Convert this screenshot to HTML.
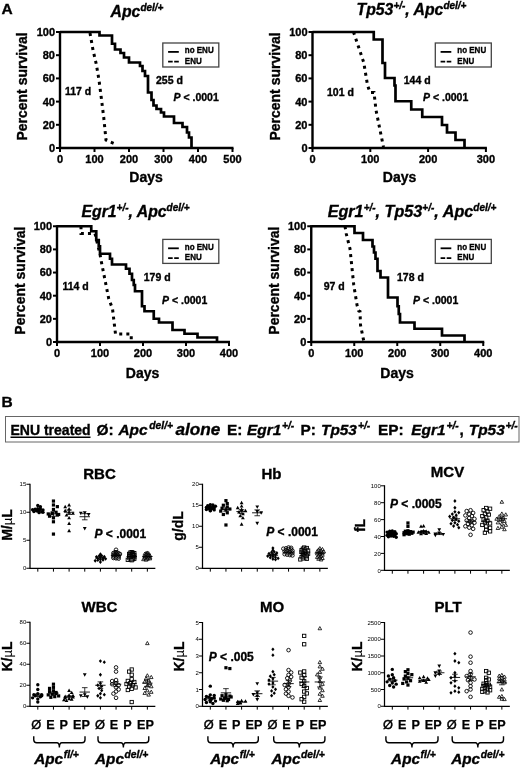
<!DOCTYPE html>
<html><head><meta charset="utf-8"><title>Figure</title>
<style>
html,body{margin:0;padding:0;background:#fff;}
body{width:520px;height:768px;overflow:hidden;font-family:"Liberation Sans",sans-serif;}
svg{display:block;filter:blur(0.3px);}
svg text{font-family:"Liberation Sans",sans-serif;fill:#000;}
svg text.b{stroke:#000;stroke-width:0.35px;}
</style></head><body>
<svg width="520" height="768" viewBox="0 0 520 768">
<rect width="520" height="768" fill="#fff"/>
<path d="M60 31 V148 H233.5" fill="none" stroke="#000" stroke-width="2.4"/>
<line x1="56" x2="60" y1="148.0" y2="148.0" stroke="#000" stroke-width="2"/>
<text x="55" y="151.9" font-size="11" font-weight="bold" font-style="normal" text-anchor="end"  class="b">0</text>
<line x1="56" x2="60" y1="124.8" y2="124.8" stroke="#000" stroke-width="2"/>
<text x="55" y="128.7" font-size="11" font-weight="bold" font-style="normal" text-anchor="end"  class="b">20</text>
<line x1="56" x2="60" y1="101.6" y2="101.6" stroke="#000" stroke-width="2"/>
<text x="55" y="105.5" font-size="11" font-weight="bold" font-style="normal" text-anchor="end"  class="b">40</text>
<line x1="56" x2="60" y1="78.4" y2="78.4" stroke="#000" stroke-width="2"/>
<text x="55" y="82.30000000000001" font-size="11" font-weight="bold" font-style="normal" text-anchor="end"  class="b">60</text>
<line x1="56" x2="60" y1="55.2" y2="55.2" stroke="#000" stroke-width="2"/>
<text x="55" y="59.1" font-size="11" font-weight="bold" font-style="normal" text-anchor="end"  class="b">80</text>
<line x1="56" x2="60" y1="32.0" y2="32.0" stroke="#000" stroke-width="2"/>
<text x="55" y="35.9" font-size="11" font-weight="bold" font-style="normal" text-anchor="end"  class="b">100</text>
<line x1="60.0" x2="60.0" y1="148" y2="152" stroke="#000" stroke-width="2"/>
<text x="60.0" y="162.5" font-size="11" font-weight="bold" font-style="normal" text-anchor="middle"  class="b">0</text>
<line x1="94.5" x2="94.5" y1="148" y2="152" stroke="#000" stroke-width="2"/>
<text x="94.5" y="162.5" font-size="11" font-weight="bold" font-style="normal" text-anchor="middle"  class="b">100</text>
<line x1="129.0" x2="129.0" y1="148" y2="152" stroke="#000" stroke-width="2"/>
<text x="129.0" y="162.5" font-size="11" font-weight="bold" font-style="normal" text-anchor="middle"  class="b">200</text>
<line x1="163.5" x2="163.5" y1="148" y2="152" stroke="#000" stroke-width="2"/>
<text x="163.5" y="162.5" font-size="11" font-weight="bold" font-style="normal" text-anchor="middle"  class="b">300</text>
<line x1="198.0" x2="198.0" y1="148" y2="152" stroke="#000" stroke-width="2"/>
<text x="198.0" y="162.5" font-size="11" font-weight="bold" font-style="normal" text-anchor="middle"  class="b">400</text>
<line x1="232.5" x2="232.5" y1="148" y2="152" stroke="#000" stroke-width="2"/>
<text x="232.5" y="162.5" font-size="11" font-weight="bold" font-style="normal" text-anchor="middle"  class="b">500</text>
<text transform="translate(27 86.5) rotate(-90)" font-size="14" font-weight="bold" class="b" text-anchor="middle">Percent survival</text>
<text x="146.0" y="182.3" font-size="14" font-weight="bold" font-style="normal" text-anchor="middle"  class="b">Days</text>
<text x="137" y="17" font-size="15.8" font-weight="bold" class="b" font-style="italic" text-anchor="middle"><tspan dy="0">Apc</tspan><tspan font-size="10" dy="-6">del/+</tspan></text>
<polyline points="90,33 93,50 96.25,64 99,80 101.25,97.5 103.75,117.5 106,140 109,141.5 114,143.5 114.5,148" fill="none" stroke="#000" stroke-width="3" stroke-dasharray="3 4.1"/>
<path d="M60 32 H99.5 V35.5 H112 V43.75 H115 V49.5 H120.5 V53 H124 V57.5 H129 V62.5 H140 V66 H142.5 V71 H145 V76 H148 V92.5 H151.5 V100 H153.5 V105.5 H156.5 V109 H161 V112.5 H164 V116.5 H174 V123 H182.5 V127 H187 V132.5 H189 V137.5 H191.5 V148" fill="none" stroke="#000" stroke-width="2.7" stroke-linejoin="miter"/>
<text x="65" y="95" font-size="10.5" font-weight="bold" font-style="normal" text-anchor="start"  class="b">117 d</text>
<text x="156" y="84" font-size="10.5" font-weight="bold" font-style="normal" text-anchor="start"  class="b">255 d</text>
<text x="173.5" y="101.2" font-size="10.5" font-weight="bold" class="b"><tspan font-style="italic">P</tspan> &lt; .0001</text>
<rect x="162.8" y="43" width="56" height="24" fill="#fff" stroke="#444" stroke-width="1.3"/>
<line x1="168.1" x2="178.8" y1="51.9" y2="51.9" stroke="#000" stroke-width="1.8"/>
<line x1="168.1" x2="178.8" y1="61.7" y2="61.7" stroke="#000" stroke-width="1.8" stroke-dasharray="4.6 1.5"/>
<text transform="translate(184.8 53.2) scale(0.87 1)" font-size="9.2" font-weight="bold" class="b">no ENU</text>
<text transform="translate(184.8 63.7) scale(0.87 1)" font-size="9.2" font-weight="bold" class="b">ENU</text>
<path d="M312.5 31 V148 H486.9" fill="none" stroke="#000" stroke-width="2.4"/>
<line x1="308.5" x2="312.5" y1="148.0" y2="148.0" stroke="#000" stroke-width="2"/>
<text x="307.5" y="151.9" font-size="11" font-weight="bold" font-style="normal" text-anchor="end"  class="b">0</text>
<line x1="308.5" x2="312.5" y1="124.8" y2="124.8" stroke="#000" stroke-width="2"/>
<text x="307.5" y="128.7" font-size="11" font-weight="bold" font-style="normal" text-anchor="end"  class="b">20</text>
<line x1="308.5" x2="312.5" y1="101.6" y2="101.6" stroke="#000" stroke-width="2"/>
<text x="307.5" y="105.5" font-size="11" font-weight="bold" font-style="normal" text-anchor="end"  class="b">40</text>
<line x1="308.5" x2="312.5" y1="78.4" y2="78.4" stroke="#000" stroke-width="2"/>
<text x="307.5" y="82.30000000000001" font-size="11" font-weight="bold" font-style="normal" text-anchor="end"  class="b">60</text>
<line x1="308.5" x2="312.5" y1="55.2" y2="55.2" stroke="#000" stroke-width="2"/>
<text x="307.5" y="59.1" font-size="11" font-weight="bold" font-style="normal" text-anchor="end"  class="b">80</text>
<line x1="308.5" x2="312.5" y1="32.0" y2="32.0" stroke="#000" stroke-width="2"/>
<text x="307.5" y="35.9" font-size="11" font-weight="bold" font-style="normal" text-anchor="end"  class="b">100</text>
<line x1="312.5" x2="312.5" y1="148" y2="152" stroke="#000" stroke-width="2"/>
<text x="312.5" y="162.5" font-size="11" font-weight="bold" font-style="normal" text-anchor="middle"  class="b">0</text>
<line x1="370.3" x2="370.3" y1="148" y2="152" stroke="#000" stroke-width="2"/>
<text x="370.3" y="162.5" font-size="11" font-weight="bold" font-style="normal" text-anchor="middle"  class="b">100</text>
<line x1="428.1" x2="428.1" y1="148" y2="152" stroke="#000" stroke-width="2"/>
<text x="428.1" y="162.5" font-size="11" font-weight="bold" font-style="normal" text-anchor="middle"  class="b">200</text>
<line x1="485.9" x2="485.9" y1="148" y2="152" stroke="#000" stroke-width="2"/>
<text x="485.9" y="162.5" font-size="11" font-weight="bold" font-style="normal" text-anchor="middle"  class="b">300</text>
<text transform="translate(280 86.5) rotate(-90)" font-size="14" font-weight="bold" class="b" text-anchor="middle">Percent survival</text>
<text x="399.5" y="182.3" font-size="14" font-weight="bold" font-style="normal" text-anchor="middle"  class="b">Days</text>
<text x="411.5" y="14.8" font-size="15.8" font-weight="bold" class="b" font-style="italic" text-anchor="middle"><tspan dy="0">Tp53</tspan><tspan font-size="10" dy="-6">+/-</tspan><tspan dy="6">, Apc</tspan><tspan font-size="10" dy="-6">del/+</tspan></text>
<polyline points="353.5,32 358.75,47.5 363.75,62.5 367.5,85 370,92.5 374,92.5 376,110 380,130 383.5,147" fill="none" stroke="#000" stroke-width="3" stroke-dasharray="3 4.1"/>
<path d="M312.5 32 H373.75 V39.5 H382.5 V63 H385 V78 H394.5 V85.5 H395.5 V101.25 H411.25 V109.5 H422.25 V117 H442 V125 H447 V132.5 H455.5 V140 H464.5 V148" fill="none" stroke="#000" stroke-width="2.7" stroke-linejoin="miter"/>
<text x="327" y="95.5" font-size="10.5" font-weight="bold" font-style="normal" text-anchor="start"  class="b">101 d</text>
<text x="403.75" y="83.5" font-size="10.5" font-weight="bold" font-style="normal" text-anchor="start"  class="b">144 d</text>
<text x="423" y="101.2" font-size="10.5" font-weight="bold" class="b"><tspan font-style="italic">P</tspan> &lt; .0001</text>
<rect x="435.3" y="43" width="56" height="24" fill="#fff" stroke="#444" stroke-width="1.3"/>
<line x1="440.6" x2="451.3" y1="51.9" y2="51.9" stroke="#000" stroke-width="1.8"/>
<line x1="440.6" x2="451.3" y1="61.7" y2="61.7" stroke="#000" stroke-width="1.8" stroke-dasharray="4.6 1.5"/>
<text transform="translate(457.3 53.2) scale(0.87 1)" font-size="9.2" font-weight="bold" class="b">no ENU</text>
<text transform="translate(457.3 63.7) scale(0.87 1)" font-size="9.2" font-weight="bold" class="b">ENU</text>
<path d="M57 225.25 V342 H230.0" fill="none" stroke="#000" stroke-width="2.4"/>
<line x1="53" x2="57" y1="342.0" y2="342.0" stroke="#000" stroke-width="2"/>
<text x="52" y="345.9" font-size="11" font-weight="bold" font-style="normal" text-anchor="end"  class="b">0</text>
<line x1="53" x2="57" y1="318.85" y2="318.85" stroke="#000" stroke-width="2"/>
<text x="52" y="322.75" font-size="11" font-weight="bold" font-style="normal" text-anchor="end"  class="b">20</text>
<line x1="53" x2="57" y1="295.7" y2="295.7" stroke="#000" stroke-width="2"/>
<text x="52" y="299.59999999999997" font-size="11" font-weight="bold" font-style="normal" text-anchor="end"  class="b">40</text>
<line x1="53" x2="57" y1="272.55" y2="272.55" stroke="#000" stroke-width="2"/>
<text x="52" y="276.45" font-size="11" font-weight="bold" font-style="normal" text-anchor="end"  class="b">60</text>
<line x1="53" x2="57" y1="249.4" y2="249.4" stroke="#000" stroke-width="2"/>
<text x="52" y="253.3" font-size="11" font-weight="bold" font-style="normal" text-anchor="end"  class="b">80</text>
<line x1="53" x2="57" y1="226.25" y2="226.25" stroke="#000" stroke-width="2"/>
<text x="52" y="230.15" font-size="11" font-weight="bold" font-style="normal" text-anchor="end"  class="b">100</text>
<line x1="57.0" x2="57.0" y1="342" y2="346" stroke="#000" stroke-width="2"/>
<text x="57.0" y="356.5" font-size="11" font-weight="bold" font-style="normal" text-anchor="middle"  class="b">0</text>
<line x1="100.0" x2="100.0" y1="342" y2="346" stroke="#000" stroke-width="2"/>
<text x="100.0" y="356.5" font-size="11" font-weight="bold" font-style="normal" text-anchor="middle"  class="b">100</text>
<line x1="143.0" x2="143.0" y1="342" y2="346" stroke="#000" stroke-width="2"/>
<text x="143.0" y="356.5" font-size="11" font-weight="bold" font-style="normal" text-anchor="middle"  class="b">200</text>
<line x1="186.0" x2="186.0" y1="342" y2="346" stroke="#000" stroke-width="2"/>
<text x="186.0" y="356.5" font-size="11" font-weight="bold" font-style="normal" text-anchor="middle"  class="b">300</text>
<line x1="229.0" x2="229.0" y1="342" y2="346" stroke="#000" stroke-width="2"/>
<text x="229.0" y="356.5" font-size="11" font-weight="bold" font-style="normal" text-anchor="middle"  class="b">400</text>
<text transform="translate(25 280.625) rotate(-90)" font-size="14" font-weight="bold" class="b" text-anchor="middle">Percent survival</text>
<text x="142.5" y="378.3" font-size="14" font-weight="bold" font-style="normal" text-anchor="middle"  class="b">Days</text>
<text x="135.6" y="217" font-size="15.8" font-weight="bold" class="b" font-style="italic" text-anchor="middle"><tspan dy="0">Egr1</tspan><tspan font-size="10" dy="-6">+/-</tspan><tspan dy="6">, Apc</tspan><tspan font-size="10" dy="-6">del/+</tspan></text>
<polyline points="81,226.25 81,233.5 95,233.5 98,246 100,254 101,260 106,285 108.75,298.75 112.5,308.75 115.5,334 131.25,334 131.25,342" fill="none" stroke="#000" stroke-width="3" stroke-dasharray="3 4.1"/>
<path d="M57 226.25 H91.25 V231.25 H96.25 V240 H98.75 V246.25 H100 V253.75 H110 V258.75 H112 V264.5 H126 V268.75 H129.5 V273.75 H132 V280 H133.75 V285 H135 V291.25 H142 V306.25 H144.5 V311.25 H153.75 V318.75 H159 V322.5 H172.5 V330 H184.5 V333.75 H197.5 V337.5 H217 V342" fill="none" stroke="#000" stroke-width="2.7" stroke-linejoin="miter"/>
<text x="62.5" y="290" font-size="10.5" font-weight="bold" font-style="normal" text-anchor="start"  class="b">114 d</text>
<text x="143.75" y="281.2" font-size="10.5" font-weight="bold" font-style="normal" text-anchor="start"  class="b">179 d</text>
<text x="162" y="303.7" font-size="10.5" font-weight="bold" class="b"><tspan font-style="italic">P</tspan> &lt; .0001</text>
<rect x="162.8" y="239.4" width="56" height="24" fill="#fff" stroke="#444" stroke-width="1.3"/>
<line x1="168.1" x2="178.8" y1="248.3" y2="248.3" stroke="#000" stroke-width="1.8"/>
<line x1="168.1" x2="178.8" y1="258.1" y2="258.1" stroke="#000" stroke-width="1.8" stroke-dasharray="4.6 1.5"/>
<text transform="translate(184.8 249.6) scale(0.87 1)" font-size="9.2" font-weight="bold" class="b">no ENU</text>
<text transform="translate(184.8 260.1) scale(0.87 1)" font-size="9.2" font-weight="bold" class="b">ENU</text>
<path d="M311.25 225.25 V342 H484.25" fill="none" stroke="#000" stroke-width="2.4"/>
<line x1="307.25" x2="311.25" y1="342.0" y2="342.0" stroke="#000" stroke-width="2"/>
<text x="306.25" y="345.9" font-size="11" font-weight="bold" font-style="normal" text-anchor="end"  class="b">0</text>
<line x1="307.25" x2="311.25" y1="318.85" y2="318.85" stroke="#000" stroke-width="2"/>
<text x="306.25" y="322.75" font-size="11" font-weight="bold" font-style="normal" text-anchor="end"  class="b">20</text>
<line x1="307.25" x2="311.25" y1="295.7" y2="295.7" stroke="#000" stroke-width="2"/>
<text x="306.25" y="299.59999999999997" font-size="11" font-weight="bold" font-style="normal" text-anchor="end"  class="b">40</text>
<line x1="307.25" x2="311.25" y1="272.55" y2="272.55" stroke="#000" stroke-width="2"/>
<text x="306.25" y="276.45" font-size="11" font-weight="bold" font-style="normal" text-anchor="end"  class="b">60</text>
<line x1="307.25" x2="311.25" y1="249.4" y2="249.4" stroke="#000" stroke-width="2"/>
<text x="306.25" y="253.3" font-size="11" font-weight="bold" font-style="normal" text-anchor="end"  class="b">80</text>
<line x1="307.25" x2="311.25" y1="226.25" y2="226.25" stroke="#000" stroke-width="2"/>
<text x="306.25" y="230.15" font-size="11" font-weight="bold" font-style="normal" text-anchor="end"  class="b">100</text>
<line x1="311.25" x2="311.25" y1="342" y2="346" stroke="#000" stroke-width="2"/>
<text x="311.25" y="356.5" font-size="11" font-weight="bold" font-style="normal" text-anchor="middle"  class="b">0</text>
<line x1="354.25" x2="354.25" y1="342" y2="346" stroke="#000" stroke-width="2"/>
<text x="354.25" y="356.5" font-size="11" font-weight="bold" font-style="normal" text-anchor="middle"  class="b">100</text>
<line x1="397.25" x2="397.25" y1="342" y2="346" stroke="#000" stroke-width="2"/>
<text x="397.25" y="356.5" font-size="11" font-weight="bold" font-style="normal" text-anchor="middle"  class="b">200</text>
<line x1="440.25" x2="440.25" y1="342" y2="346" stroke="#000" stroke-width="2"/>
<text x="440.25" y="356.5" font-size="11" font-weight="bold" font-style="normal" text-anchor="middle"  class="b">300</text>
<line x1="483.25" x2="483.25" y1="342" y2="346" stroke="#000" stroke-width="2"/>
<text x="483.25" y="356.5" font-size="11" font-weight="bold" font-style="normal" text-anchor="middle"  class="b">400</text>
<text transform="translate(278.75 280.625) rotate(-90)" font-size="14" font-weight="bold" class="b" text-anchor="middle">Percent survival</text>
<text x="397.0" y="378.3" font-size="14" font-weight="bold" font-style="normal" text-anchor="middle"  class="b">Days</text>
<text x="412" y="216.7" font-size="16.2" font-weight="bold" class="b" font-style="italic" text-anchor="middle"><tspan dy="0">Egr1</tspan><tspan font-size="10" dy="-6">+/-</tspan><tspan dy="6">, Tp53</tspan><tspan font-size="10" dy="-6">+/-</tspan><tspan dy="6">, Apc</tspan><tspan font-size="10" dy="-6">del/+</tspan></text>
<polyline points="345,226.25 346.25,233.75 350,248.75 353.75,285 357,305 358.75,311 360,311.5 360.5,325 363.75,341" fill="none" stroke="#000" stroke-width="3" stroke-dasharray="3 4.1"/>
<path d="M311.25 226.25 H354.5 V233 H363 V240 H372.5 V246.5 H374 V252.5 H375.5 V258.75 H377.5 V271 H380.5 V277.5 H388 V297.5 H397.5 V306.25 H398.75 V314 H400 V322.5 H414.5 V328.75 H442 V335.5 H464.5 V342" fill="none" stroke="#000" stroke-width="2.7" stroke-linejoin="miter"/>
<text x="323.75" y="289.7" font-size="10.5" font-weight="bold" font-style="normal" text-anchor="start"  class="b">97 d</text>
<text x="397" y="281.2" font-size="10.5" font-weight="bold" font-style="normal" text-anchor="start"  class="b">178 d</text>
<text x="413" y="303.7" font-size="10.5" font-weight="bold" class="b"><tspan font-style="italic">P</tspan> &lt; .0001</text>
<rect x="435.3" y="239.4" width="56" height="24" fill="#fff" stroke="#444" stroke-width="1.3"/>
<line x1="440.6" x2="451.3" y1="248.3" y2="248.3" stroke="#000" stroke-width="1.8"/>
<line x1="440.6" x2="451.3" y1="258.1" y2="258.1" stroke="#000" stroke-width="1.8" stroke-dasharray="4.6 1.5"/>
<text transform="translate(457.3 249.6) scale(0.87 1)" font-size="9.2" font-weight="bold" class="b">no ENU</text>
<text transform="translate(457.3 260.1) scale(0.87 1)" font-size="9.2" font-weight="bold" class="b">ENU</text>
<text x="1.5" y="14" font-size="15.5" font-weight="bold" font-style="normal" text-anchor="start"  class="b">A</text>
<text x="1.5" y="406.5" font-size="15.5" font-weight="bold" font-style="normal" text-anchor="start"  class="b">B</text>
<rect x="5.5" y="416.5" width="513.5" height="25.5" fill="#fff" stroke="#666" stroke-width="1"/>
<text x="10.5" y="434.5" font-size="14" font-weight="bold" font-style="normal" text-anchor="start"  class="b">ENU treated</text>
<line x1="10.5" x2="90.5" y1="437.3" y2="437.3" stroke="#000" stroke-width="1.4"/>
<text x="96.5" y="434.5" font-size="15.4" font-weight="bold" font-style="normal" text-anchor="start"  class="b">Ø:</text>
<text x="118.5" y="434.5" font-size="15.4" font-weight="bold" font-style="italic" text-anchor="start"  class="b">Apc</text>
<text x="149.3" y="429.4" font-size="10.3" font-weight="bold" font-style="italic" text-anchor="start"  class="b">del/+</text>
<text x="175.5" y="434.5" font-size="17.2" font-weight="bold" font-style="italic" text-anchor="start"  class="b">alone</text>
<text x="227" y="434.5" font-size="15.4" font-weight="bold" font-style="normal" text-anchor="start"  class="b">E:</text>
<text x="247" y="434.5" font-size="15.4" font-weight="bold" font-style="italic" text-anchor="start"  class="b">Egr1</text>
<text x="282" y="429.4" font-size="10.3" font-weight="bold" font-style="italic" text-anchor="start"  class="b">+/-</text>
<text x="300.5" y="434.5" font-size="15.4" font-weight="bold" font-style="normal" text-anchor="start"  class="b">P:</text>
<text x="321" y="434.5" font-size="15.4" font-weight="bold" font-style="italic" text-anchor="start"  class="b">Tp53</text>
<text x="358" y="429.4" font-size="10.3" font-weight="bold" font-style="italic" text-anchor="start"  class="b">+/-</text>
<text x="378" y="434.5" font-size="15.4" font-weight="bold" font-style="normal" text-anchor="start"  class="b">EP:</text>
<text x="411.3" y="434.5" font-size="15.4" font-weight="bold" font-style="italic" text-anchor="start"  class="b">Egr1</text>
<text x="446.5" y="429.4" font-size="10.3" font-weight="bold" font-style="italic" text-anchor="start"  class="b">+/-</text>
<text x="459.5" y="434.5" font-size="15.4" font-weight="bold" font-style="normal" text-anchor="start"  class="b">,</text>
<text x="468.8" y="434.5" font-size="15.4" font-weight="bold" font-style="italic" text-anchor="start"  class="b">Tp53</text>
<text x="505.5" y="429.4" font-size="10.3" font-weight="bold" font-style="italic" text-anchor="start"  class="b">+/-</text>
<path d="M30 483.75 V568.25 H155.35" fill="none" stroke="#000" stroke-width="1.25"/>
<line x1="26.4" x2="30" y1="568.25" y2="568.25" stroke="#000" stroke-width="1"/>
<text x="26.3" y="570.45" font-size="6" font-weight="normal" font-style="normal" text-anchor="end" fill="#222">0</text>
<line x1="26.4" x2="30" y1="540.25" y2="540.25" stroke="#000" stroke-width="1"/>
<text x="26.3" y="542.45" font-size="6" font-weight="normal" font-style="normal" text-anchor="end" fill="#222">5</text>
<line x1="26.4" x2="30" y1="512.25" y2="512.25" stroke="#000" stroke-width="1"/>
<text x="26.3" y="514.45" font-size="6" font-weight="normal" font-style="normal" text-anchor="end" fill="#222">10</text>
<line x1="26.4" x2="30" y1="484.25" y2="484.25" stroke="#000" stroke-width="1"/>
<text x="26.3" y="486.45" font-size="6" font-weight="normal" font-style="normal" text-anchor="end" fill="#222">15</text>
<line x1="37.8" x2="37.8" y1="568.25" y2="571.65" stroke="#000" stroke-width="1"/>
<line x1="53.449999999999996" x2="53.449999999999996" y1="568.25" y2="571.65" stroke="#000" stroke-width="1"/>
<line x1="69.1" x2="69.1" y1="568.25" y2="571.65" stroke="#000" stroke-width="1"/>
<line x1="84.75" x2="84.75" y1="568.25" y2="571.65" stroke="#000" stroke-width="1"/>
<line x1="100.4" x2="100.4" y1="568.25" y2="571.65" stroke="#000" stroke-width="1"/>
<line x1="116.05" x2="116.05" y1="568.25" y2="571.65" stroke="#000" stroke-width="1"/>
<line x1="131.7" x2="131.7" y1="568.25" y2="571.65" stroke="#000" stroke-width="1"/>
<line x1="147.35" x2="147.35" y1="568.25" y2="571.65" stroke="#000" stroke-width="1"/>
<text x="99.5" y="479" font-size="15" font-weight="bold" font-style="normal" text-anchor="middle"  class="b">RBC</text>
<text transform="translate(12 525) rotate(-90)" font-size="14" font-weight="bold" class="b" text-anchor="middle">M/<tspan font-weight="normal" font-size="13" stroke-width="0.15">µ</tspan>L</text>
<circle cx="37.8" cy="505.53" r="1.7" fill="#000"/>
<circle cx="40.4" cy="506.65" r="1.7" fill="#000"/>
<circle cx="37.8" cy="508.61" r="1.7" fill="#000"/>
<circle cx="40.4" cy="508.99" r="1.7" fill="#000"/>
<circle cx="35.2" cy="509.28" r="1.7" fill="#000"/>
<circle cx="32.6" cy="509.74" r="1.7" fill="#000"/>
<circle cx="43.0" cy="510.01" r="1.7" fill="#000"/>
<circle cx="39.1" cy="510.48" r="1.7" fill="#000"/>
<circle cx="36.5" cy="510.79" r="1.7" fill="#000"/>
<circle cx="37.8" cy="511.12" r="1.7" fill="#000"/>
<circle cx="33.9" cy="511.6" r="1.7" fill="#000"/>
<circle cx="41.7" cy="511.84" r="1.7" fill="#000"/>
<circle cx="43.0" cy="512.33" r="1.7" fill="#000"/>
<circle cx="39.1" cy="512.66" r="1.7" fill="#000"/>
<line x1="32.599999999999994" x2="43.0" y1="510.01" y2="510.01" stroke="#000" stroke-width="0.9"/>
<rect x="51.85" y="499.45" width="3.2" height="3.2" fill="#000"/>
<rect x="51.85" y="503.37" width="3.2" height="3.2" fill="#000"/>
<rect x="55.75" y="505.04999999999995" width="3.2" height="3.2" fill="#000"/>
<rect x="51.85" y="507.84999999999997" width="3.2" height="3.2" fill="#000"/>
<rect x="54.449999999999996" y="510.65" width="3.2" height="3.2" fill="#000"/>
<rect x="50.55" y="511.77" width="3.2" height="3.2" fill="#000"/>
<rect x="46.65" y="512.3299999999999" width="3.2" height="3.2" fill="#000"/>
<rect x="57.05" y="512.89" width="3.2" height="3.2" fill="#000"/>
<rect x="55.75" y="513.4499999999999" width="3.2" height="3.2" fill="#000"/>
<rect x="47.949999999999996" y="514.5699999999999" width="3.2" height="3.2" fill="#000"/>
<rect x="51.85" y="516.25" width="3.2" height="3.2" fill="#000"/>
<rect x="51.85" y="520.17" width="3.2" height="3.2" fill="#000"/>
<rect x="51.85" y="532.49" width="3.2" height="3.2" fill="#000"/>
<line x1="48.24999999999999" x2="58.65" y1="513.9300000000001" y2="513.9300000000001" stroke="#000" stroke-width="0.9"/>
<path d="M53.449999999999996 511.69000000000005 V516.1700000000001 M50.65 511.69000000000005 H56.24999999999999 M50.65 516.1700000000001 H56.24999999999999" stroke="#000" stroke-width="0.8" fill="none"/>
<path d="M69.1 503.07000000000005 L71.0 506.47 L67.19999999999999 506.47Z" fill="#000"/>
<path d="M65.2 504.75 L67.10000000000001 508.15 L63.300000000000004 508.15Z" fill="#000"/>
<path d="M69.1 506.99 L71.0 510.39 L67.19999999999999 510.39Z" fill="#000"/>
<path d="M65.2 508.67 L67.10000000000001 512.0699999999999 L63.300000000000004 512.0699999999999Z" fill="#000"/>
<path d="M69.1 510.35 L71.0 513.75 L67.19999999999999 513.75Z" fill="#000"/>
<path d="M73.0 511.47 L74.9 514.87 L71.1 514.87Z" fill="#000"/>
<path d="M66.5 513.15 L68.4 516.55 L64.6 516.55Z" fill="#000"/>
<path d="M69.1 515.95 L71.0 519.35 L67.19999999999999 519.35Z" fill="#000"/>
<path d="M69.1 521.5500000000001 L71.0 524.95 L67.19999999999999 524.95Z" fill="#000"/>
<path d="M69.1 528.83 L71.0 532.23 L67.19999999999999 532.23Z" fill="#000"/>
<line x1="63.89999999999999" x2="74.3" y1="512.25" y2="512.25" stroke="#000" stroke-width="0.9"/>
<path d="M69.1 510.01 V514.49 M66.3 510.01 H71.89999999999999 M66.3 514.49 H71.89999999999999" stroke="#000" stroke-width="0.8" fill="none"/>
<path d="M84.75 514.7099999999999 L86.65 511.30999999999995 L82.85 511.30999999999995Z" fill="#000"/>
<path d="M80.85 515.27 L82.75 511.87 L78.94999999999999 511.87Z" fill="#000"/>
<path d="M88.65 516.39 L90.55000000000001 512.99 L86.75 512.99Z" fill="#000"/>
<path d="M84.75 530.39 L86.65 526.99 L82.85 526.99Z" fill="#000"/>
<line x1="79.55" x2="89.95" y1="516.73" y2="516.73" stroke="#000" stroke-width="0.9"/>
<path d="M84.75 513.65 V519.8100000000001 M81.95 513.65 H87.55 M81.95 519.8100000000001 H87.55" stroke="#000" stroke-width="0.8" fill="none"/>
<path d="M100.4 552.35 L102.0 554.25 L100.4 556.15 L98.80000000000001 554.25Z" fill="#000"/>
<path d="M101.7 553.76 L103.3 555.66 L101.7 557.56 L100.10000000000001 555.66Z" fill="#000"/>
<path d="M99.1 554.07 L100.69999999999999 555.97 L99.1 557.87 L97.5 555.97Z" fill="#000"/>
<path d="M104.3 554.76 L105.89999999999999 556.66 L104.3 558.56 L102.7 556.66Z" fill="#000"/>
<path d="M96.5 554.97 L98.1 556.87 L96.5 558.77 L94.9 556.87Z" fill="#000"/>
<path d="M100.4 555.6 L102.0 557.5 L100.4 559.4 L98.80000000000001 557.5Z" fill="#000"/>
<path d="M103.0 556.02 L104.6 557.92 L103.0 559.8199999999999 L101.4 557.92Z" fill="#000"/>
<path d="M97.8 556.38 L99.39999999999999 558.28 L97.8 560.18 L96.2 558.28Z" fill="#000"/>
<path d="M105.6 556.9300000000001 L107.19999999999999 558.83 L105.6 560.73 L104.0 558.83Z" fill="#000"/>
<path d="M100.4 557.51 L102.0 559.41 L100.4 561.31 L98.80000000000001 559.41Z" fill="#000"/>
<path d="M103.0 558.01 L104.6 559.91 L103.0 561.81 L101.4 559.91Z" fill="#000"/>
<path d="M97.8 558.28 L99.39999999999999 560.18 L97.8 562.0799999999999 L96.2 560.18Z" fill="#000"/>
<path d="M95.2 558.86 L96.8 560.76 L95.2 562.66 L93.60000000000001 560.76Z" fill="#000"/>
<path d="M100.4 560.19 L102.0 562.09 L100.4 563.99 L98.80000000000001 562.09Z" fill="#000"/>
<line x1="95.2" x2="105.60000000000001" y1="558.17" y2="558.17" stroke="#000" stroke-width="0.9"/>
<circle cx="116.05" cy="549.77" r="1.8" fill="#fff" fill-opacity="0.25" stroke="#000" stroke-width="0.9"/>
<circle cx="116.05" cy="552.15" r="1.8" fill="#fff" fill-opacity="0.25" stroke="#000" stroke-width="0.9"/>
<circle cx="114.75" cy="552.52" r="1.8" fill="#fff" fill-opacity="0.25" stroke="#000" stroke-width="0.9"/>
<circle cx="117.35" cy="552.74" r="1.8" fill="#fff" fill-opacity="0.25" stroke="#000" stroke-width="0.9"/>
<circle cx="113.45" cy="553.03" r="1.8" fill="#fff" fill-opacity="0.25" stroke="#000" stroke-width="0.9"/>
<circle cx="118.65" cy="553.42" r="1.8" fill="#fff" fill-opacity="0.25" stroke="#000" stroke-width="0.9"/>
<circle cx="116.05" cy="553.7" r="1.8" fill="#fff" fill-opacity="0.25" stroke="#000" stroke-width="0.9"/>
<circle cx="119.95" cy="553.98" r="1.8" fill="#fff" fill-opacity="0.25" stroke="#000" stroke-width="0.9"/>
<circle cx="114.75" cy="554.33" r="1.8" fill="#fff" fill-opacity="0.25" stroke="#000" stroke-width="0.9"/>
<circle cx="117.35" cy="554.62" r="1.8" fill="#fff" fill-opacity="0.25" stroke="#000" stroke-width="0.9"/>
<circle cx="113.45" cy="554.88" r="1.8" fill="#fff" fill-opacity="0.25" stroke="#000" stroke-width="0.9"/>
<circle cx="116.05" cy="555.27" r="1.8" fill="#fff" fill-opacity="0.25" stroke="#000" stroke-width="0.9"/>
<circle cx="118.65" cy="555.6" r="1.8" fill="#fff" fill-opacity="0.25" stroke="#000" stroke-width="0.9"/>
<circle cx="114.75" cy="555.91" r="1.8" fill="#fff" fill-opacity="0.25" stroke="#000" stroke-width="0.9"/>
<circle cx="117.35" cy="556.12" r="1.8" fill="#fff" fill-opacity="0.25" stroke="#000" stroke-width="0.9"/>
<circle cx="113.45" cy="556.46" r="1.8" fill="#fff" fill-opacity="0.25" stroke="#000" stroke-width="0.9"/>
<circle cx="116.05" cy="556.72" r="1.8" fill="#fff" fill-opacity="0.25" stroke="#000" stroke-width="0.9"/>
<circle cx="118.65" cy="557.04" r="1.8" fill="#fff" fill-opacity="0.25" stroke="#000" stroke-width="0.9"/>
<circle cx="114.75" cy="557.41" r="1.8" fill="#fff" fill-opacity="0.25" stroke="#000" stroke-width="0.9"/>
<circle cx="117.35" cy="557.6" r="1.8" fill="#fff" fill-opacity="0.25" stroke="#000" stroke-width="0.9"/>
<circle cx="113.45" cy="558.0" r="1.8" fill="#fff" fill-opacity="0.25" stroke="#000" stroke-width="0.9"/>
<circle cx="116.05" cy="558.34" r="1.8" fill="#fff" fill-opacity="0.25" stroke="#000" stroke-width="0.9"/>
<circle cx="118.65" cy="558.64" r="1.8" fill="#fff" fill-opacity="0.25" stroke="#000" stroke-width="0.9"/>
<line x1="110.85" x2="121.25" y1="555.37" y2="555.37" stroke="#000" stroke-width="0.9"/>
<rect x="130.04999999999998" y="550.5" width="3.3" height="3.3" fill="#fff" fill-opacity="0.25" stroke="#000" stroke-width="0.9"/>
<rect x="128.75" y="550.89" width="3.3" height="3.3" fill="#fff" fill-opacity="0.25" stroke="#000" stroke-width="0.9"/>
<rect x="131.35" y="551.14" width="3.3" height="3.3" fill="#fff" fill-opacity="0.25" stroke="#000" stroke-width="0.9"/>
<rect x="132.65" y="551.51" width="3.3" height="3.3" fill="#fff" fill-opacity="0.25" stroke="#000" stroke-width="0.9"/>
<rect x="130.04999999999998" y="551.94" width="3.3" height="3.3" fill="#fff" fill-opacity="0.25" stroke="#000" stroke-width="0.9"/>
<rect x="127.44999999999999" y="552.27" width="3.3" height="3.3" fill="#fff" fill-opacity="0.25" stroke="#000" stroke-width="0.9"/>
<rect x="131.35" y="552.62" width="3.3" height="3.3" fill="#fff" fill-opacity="0.25" stroke="#000" stroke-width="0.9"/>
<rect x="128.75" y="552.94" width="3.3" height="3.3" fill="#fff" fill-opacity="0.25" stroke="#000" stroke-width="0.9"/>
<rect x="130.04999999999998" y="553.37" width="3.3" height="3.3" fill="#fff" fill-opacity="0.25" stroke="#000" stroke-width="0.9"/>
<rect x="132.65" y="553.61" width="3.3" height="3.3" fill="#fff" fill-opacity="0.25" stroke="#000" stroke-width="0.9"/>
<rect x="131.35" y="554.02" width="3.3" height="3.3" fill="#fff" fill-opacity="0.25" stroke="#000" stroke-width="0.9"/>
<rect x="128.75" y="554.33" width="3.3" height="3.3" fill="#fff" fill-opacity="0.25" stroke="#000" stroke-width="0.9"/>
<rect x="127.44999999999999" y="554.7" width="3.3" height="3.3" fill="#fff" fill-opacity="0.25" stroke="#000" stroke-width="0.9"/>
<rect x="130.04999999999998" y="555.1800000000001" width="3.3" height="3.3" fill="#fff" fill-opacity="0.25" stroke="#000" stroke-width="0.9"/>
<rect x="132.65" y="555.44" width="3.3" height="3.3" fill="#fff" fill-opacity="0.25" stroke="#000" stroke-width="0.9"/>
<rect x="131.35" y="555.86" width="3.3" height="3.3" fill="#fff" fill-opacity="0.25" stroke="#000" stroke-width="0.9"/>
<rect x="128.75" y="556.08" width="3.3" height="3.3" fill="#fff" fill-opacity="0.25" stroke="#000" stroke-width="0.9"/>
<rect x="127.44999999999999" y="556.5" width="3.3" height="3.3" fill="#fff" fill-opacity="0.25" stroke="#000" stroke-width="0.9"/>
<rect x="130.04999999999998" y="556.9200000000001" width="3.3" height="3.3" fill="#fff" fill-opacity="0.25" stroke="#000" stroke-width="0.9"/>
<rect x="132.65" y="557.08" width="3.3" height="3.3" fill="#fff" fill-opacity="0.25" stroke="#000" stroke-width="0.9"/>
<rect x="131.35" y="557.58" width="3.3" height="3.3" fill="#fff" fill-opacity="0.25" stroke="#000" stroke-width="0.9"/>
<rect x="128.75" y="557.84" width="3.3" height="3.3" fill="#fff" fill-opacity="0.25" stroke="#000" stroke-width="0.9"/>
<rect x="126.14999999999999" y="558.16" width="3.3" height="3.3" fill="#fff" fill-opacity="0.25" stroke="#000" stroke-width="0.9"/>
<rect x="130.04999999999998" y="558.58" width="3.3" height="3.3" fill="#fff" fill-opacity="0.25" stroke="#000" stroke-width="0.9"/>
<line x1="126.49999999999999" x2="136.89999999999998" y1="556.49" y2="556.49" stroke="#000" stroke-width="0.9"/>
<path d="M147.35 550.96 L149.15 554.16 L145.54999999999998 554.16Z" fill="#fff" fill-opacity="0.25" stroke="#000" stroke-width="0.8"/>
<path d="M146.05 551.4100000000001 L147.85000000000002 554.61 L144.25 554.61Z" fill="#fff" fill-opacity="0.25" stroke="#000" stroke-width="0.8"/>
<path d="M148.65 551.6 L150.45000000000002 554.8 L146.85 554.8Z" fill="#fff" fill-opacity="0.25" stroke="#000" stroke-width="0.8"/>
<path d="M144.75 552.07 L146.55 555.27 L142.95 555.27Z" fill="#fff" fill-opacity="0.25" stroke="#000" stroke-width="0.8"/>
<path d="M147.35 552.46 L149.15 555.66 L145.54999999999998 555.66Z" fill="#fff" fill-opacity="0.25" stroke="#000" stroke-width="0.8"/>
<path d="M146.05 552.85 L147.85000000000002 556.05 L144.25 556.05Z" fill="#fff" fill-opacity="0.25" stroke="#000" stroke-width="0.8"/>
<path d="M148.65 553.08 L150.45000000000002 556.28 L146.85 556.28Z" fill="#fff" fill-opacity="0.25" stroke="#000" stroke-width="0.8"/>
<path d="M149.95 553.6 L151.75 556.8 L148.14999999999998 556.8Z" fill="#fff" fill-opacity="0.25" stroke="#000" stroke-width="0.8"/>
<path d="M147.35 553.95 L149.15 557.15 L145.54999999999998 557.15Z" fill="#fff" fill-opacity="0.25" stroke="#000" stroke-width="0.8"/>
<path d="M144.75 554.3000000000001 L146.55 557.5 L142.95 557.5Z" fill="#fff" fill-opacity="0.25" stroke="#000" stroke-width="0.8"/>
<path d="M148.65 554.6 L150.45000000000002 557.8 L146.85 557.8Z" fill="#fff" fill-opacity="0.25" stroke="#000" stroke-width="0.8"/>
<path d="M146.05 555.0600000000001 L147.85000000000002 558.26 L144.25 558.26Z" fill="#fff" fill-opacity="0.25" stroke="#000" stroke-width="0.8"/>
<path d="M149.95 555.2800000000001 L151.75 558.48 L148.14999999999998 558.48Z" fill="#fff" fill-opacity="0.25" stroke="#000" stroke-width="0.8"/>
<path d="M147.35 555.71 L149.15 558.91 L145.54999999999998 558.91Z" fill="#fff" fill-opacity="0.25" stroke="#000" stroke-width="0.8"/>
<path d="M148.65 556.1 L150.45000000000002 559.3 L146.85 559.3Z" fill="#fff" fill-opacity="0.25" stroke="#000" stroke-width="0.8"/>
<path d="M144.75 556.34 L146.55 559.54 L142.95 559.54Z" fill="#fff" fill-opacity="0.25" stroke="#000" stroke-width="0.8"/>
<path d="M149.95 556.6700000000001 L151.75 559.87 L148.14999999999998 559.87Z" fill="#fff" fill-opacity="0.25" stroke="#000" stroke-width="0.8"/>
<path d="M147.35 557.11 L149.15 560.31 L145.54999999999998 560.31Z" fill="#fff" fill-opacity="0.25" stroke="#000" stroke-width="0.8"/>
<path d="M143.45 557.46 L145.25 560.66 L141.64999999999998 560.66Z" fill="#fff" fill-opacity="0.25" stroke="#000" stroke-width="0.8"/>
<path d="M146.05 557.96 L147.85000000000002 561.16 L144.25 561.16Z" fill="#fff" fill-opacity="0.25" stroke="#000" stroke-width="0.8"/>
<line x1="142.15" x2="152.54999999999998" y1="556.49" y2="556.49" stroke="#000" stroke-width="0.9"/>
<text x="94.5" y="538" font-size="12" font-weight="bold" class="b"><tspan font-style="italic">P</tspan> &lt; .0001</text>
<path d="M202.5 483.75 V568.25 H327.85" fill="none" stroke="#000" stroke-width="1.25"/>
<line x1="198.9" x2="202.5" y1="568.25" y2="568.25" stroke="#000" stroke-width="1"/>
<text x="198.8" y="570.45" font-size="6" font-weight="normal" font-style="normal" text-anchor="end" fill="#222">0</text>
<line x1="198.9" x2="202.5" y1="547.25" y2="547.25" stroke="#000" stroke-width="1"/>
<text x="198.8" y="549.45" font-size="6" font-weight="normal" font-style="normal" text-anchor="end" fill="#222">5</text>
<line x1="198.9" x2="202.5" y1="526.25" y2="526.25" stroke="#000" stroke-width="1"/>
<text x="198.8" y="528.45" font-size="6" font-weight="normal" font-style="normal" text-anchor="end" fill="#222">10</text>
<line x1="198.9" x2="202.5" y1="505.25" y2="505.25" stroke="#000" stroke-width="1"/>
<text x="198.8" y="507.45" font-size="6" font-weight="normal" font-style="normal" text-anchor="end" fill="#222">15</text>
<line x1="198.9" x2="202.5" y1="484.25" y2="484.25" stroke="#000" stroke-width="1"/>
<text x="198.8" y="486.45" font-size="6" font-weight="normal" font-style="normal" text-anchor="end" fill="#222">20</text>
<line x1="210.3" x2="210.3" y1="568.25" y2="571.65" stroke="#000" stroke-width="1"/>
<line x1="225.95000000000002" x2="225.95000000000002" y1="568.25" y2="571.65" stroke="#000" stroke-width="1"/>
<line x1="241.60000000000002" x2="241.60000000000002" y1="568.25" y2="571.65" stroke="#000" stroke-width="1"/>
<line x1="257.25" x2="257.25" y1="568.25" y2="571.65" stroke="#000" stroke-width="1"/>
<line x1="272.90000000000003" x2="272.90000000000003" y1="568.25" y2="571.65" stroke="#000" stroke-width="1"/>
<line x1="288.55" x2="288.55" y1="568.25" y2="571.65" stroke="#000" stroke-width="1"/>
<line x1="304.20000000000005" x2="304.20000000000005" y1="568.25" y2="571.65" stroke="#000" stroke-width="1"/>
<line x1="319.85" x2="319.85" y1="568.25" y2="571.65" stroke="#000" stroke-width="1"/>
<text x="271.5" y="479" font-size="15" font-weight="bold" font-style="normal" text-anchor="middle"  class="b">Hb</text>
<text transform="translate(183.4 526) rotate(-90)" font-size="14" font-weight="bold" class="b" text-anchor="middle">g/dL</text>
<circle cx="210.3" cy="504.61" r="1.7" fill="#000"/>
<circle cx="212.9" cy="505.06" r="1.7" fill="#000"/>
<circle cx="207.7" cy="505.68" r="1.7" fill="#000"/>
<circle cx="215.5" cy="506.15" r="1.7" fill="#000"/>
<circle cx="210.3" cy="506.59" r="1.7" fill="#000"/>
<circle cx="212.9" cy="507.14" r="1.7" fill="#000"/>
<circle cx="206.4" cy="507.52" r="1.7" fill="#000"/>
<circle cx="214.2" cy="507.89" r="1.7" fill="#000"/>
<circle cx="209.0" cy="508.49" r="1.7" fill="#000"/>
<circle cx="211.6" cy="508.86" r="1.7" fill="#000"/>
<circle cx="206.4" cy="509.55" r="1.7" fill="#000"/>
<circle cx="214.2" cy="509.9" r="1.7" fill="#000"/>
<circle cx="210.3" cy="510.44" r="1.7" fill="#000"/>
<circle cx="210.3" cy="510.77" r="1.7" fill="#000"/>
<line x1="205.10000000000002" x2="215.5" y1="507.35" y2="507.35" stroke="#000" stroke-width="0.9"/>
<rect x="224.35" y="499.03" width="3.2" height="3.2" fill="#000"/>
<rect x="225.65" y="501.96999999999997" width="3.2" height="3.2" fill="#000"/>
<rect x="221.75" y="503.65" width="3.2" height="3.2" fill="#000"/>
<rect x="225.65" y="505.33" width="3.2" height="3.2" fill="#000"/>
<rect x="220.45000000000002" y="506.59" width="3.2" height="3.2" fill="#000"/>
<rect x="228.25" y="507.42999999999995" width="3.2" height="3.2" fill="#000"/>
<rect x="224.35" y="508.27" width="3.2" height="3.2" fill="#000"/>
<rect x="219.15" y="509.53" width="3.2" height="3.2" fill="#000"/>
<rect x="225.65" y="511.2099999999999" width="3.2" height="3.2" fill="#000"/>
<rect x="221.75" y="512.89" width="3.2" height="3.2" fill="#000"/>
<rect x="224.35" y="523.39" width="3.2" height="3.2" fill="#000"/>
<line x1="220.75000000000003" x2="231.15" y1="509.45" y2="509.45" stroke="#000" stroke-width="0.9"/>
<path d="M225.95000000000002 507.77 V511.13 M223.15 507.77 H228.75000000000003 M223.15 511.13 H228.75000000000003" stroke="#000" stroke-width="0.8" fill="none"/>
<path d="M241.6 500.83000000000004 L243.5 504.23 L239.7 504.23Z" fill="#000"/>
<path d="M241.6 504.19 L243.5 507.59 L239.7 507.59Z" fill="#000"/>
<path d="M237.7 505.87 L239.6 509.27 L235.79999999999998 509.27Z" fill="#000"/>
<path d="M241.6 507.55 L243.5 510.95 L239.7 510.95Z" fill="#000"/>
<path d="M245.5 508.81 L247.4 512.21 L243.6 512.21Z" fill="#000"/>
<path d="M239.0 510.07000000000005 L240.9 513.47 L237.1 513.47Z" fill="#000"/>
<path d="M242.9 511.75 L244.8 515.15 L241.0 515.15Z" fill="#000"/>
<path d="M240.3 513.85 L242.20000000000002 517.25 L238.4 517.25Z" fill="#000"/>
<path d="M242.9 515.95 L244.8 519.35 L241.0 519.35Z" fill="#000"/>
<path d="M241.6 522.25 L243.5 525.65 L239.7 525.65Z" fill="#000"/>
<line x1="236.40000000000003" x2="246.8" y1="511.55" y2="511.55" stroke="#000" stroke-width="0.9"/>
<path d="M241.60000000000002 509.66 V513.44 M238.8 509.66 H244.40000000000003 M238.8 513.44 H244.40000000000003" stroke="#000" stroke-width="0.8" fill="none"/>
<path d="M257.25 508.83 L259.15 505.43 L255.35 505.43Z" fill="#000"/>
<path d="M257.25 513.45 L259.15 510.05 L255.35 510.05Z" fill="#000"/>
<path d="M261.15 514.7099999999999 L263.04999999999995 511.30999999999995 L259.25 511.30999999999995Z" fill="#000"/>
<path d="M257.25 525.2099999999999 L259.15 521.81 L255.35 521.81Z" fill="#000"/>
<line x1="252.05" x2="262.45" y1="512.81" y2="512.81" stroke="#000" stroke-width="0.9"/>
<path d="M257.25 509.86999999999995 V515.75 M254.45 509.86999999999995 H260.05 M254.45 515.75 H260.05" stroke="#000" stroke-width="0.8" fill="none"/>
<path d="M272.9 546.19 L274.5 548.09 L272.9 549.99 L271.29999999999995 548.09Z" fill="#000"/>
<path d="M272.9 548.2900000000001 L274.5 550.19 L272.9 552.09 L271.29999999999995 550.19Z" fill="#000"/>
<path d="M274.2 549.88 L275.8 551.78 L274.2 553.68 L272.59999999999997 551.78Z" fill="#000"/>
<path d="M271.6 550.36 L273.20000000000005 552.26 L271.6 554.16 L270.0 552.26Z" fill="#000"/>
<path d="M276.8 551.11 L278.40000000000003 553.01 L276.8 554.91 L275.2 553.01Z" fill="#000"/>
<path d="M269.0 551.6700000000001 L270.6 553.57 L269.0 555.47 L267.4 553.57Z" fill="#000"/>
<path d="M272.9 552.23 L274.5 554.13 L272.9 556.03 L271.29999999999995 554.13Z" fill="#000"/>
<path d="M275.5 552.74 L277.1 554.64 L275.5 556.54 L273.9 554.64Z" fill="#000"/>
<path d="M270.3 553.45 L271.90000000000003 555.35 L270.3 557.25 L268.7 555.35Z" fill="#000"/>
<path d="M267.7 554.2 L269.3 556.1 L267.7 558.0 L266.09999999999997 556.1Z" fill="#000"/>
<path d="M272.9 554.6 L274.5 556.5 L272.9 558.4 L271.29999999999995 556.5Z" fill="#000"/>
<path d="M275.5 555.39 L277.1 557.29 L275.5 559.1899999999999 L273.9 557.29Z" fill="#000"/>
<path d="M270.3 555.7900000000001 L271.90000000000003 557.69 L270.3 559.59 L268.7 557.69Z" fill="#000"/>
<path d="M278.1 556.46 L279.70000000000005 558.36 L278.1 560.26 L276.5 558.36Z" fill="#000"/>
<path d="M272.9 557.14 L274.5 559.04 L272.9 560.9399999999999 L271.29999999999995 559.04Z" fill="#000"/>
<path d="M275.5 557.6800000000001 L277.1 559.58 L275.5 561.48 L273.9 559.58Z" fill="#000"/>
<line x1="267.70000000000005" x2="278.1" y1="555.23" y2="555.23" stroke="#000" stroke-width="0.9"/>
<path d="M272.90000000000003 554.39 V556.07 M270.1 554.39 H275.70000000000005 M270.1 556.07 H275.70000000000005" stroke="#000" stroke-width="0.8" fill="none"/>
<circle cx="288.55" cy="547.45" r="1.8" fill="#fff" fill-opacity="0.25" stroke="#000" stroke-width="0.9"/>
<circle cx="291.15" cy="547.83" r="1.8" fill="#fff" fill-opacity="0.25" stroke="#000" stroke-width="0.9"/>
<circle cx="285.95" cy="548.34" r="1.8" fill="#fff" fill-opacity="0.25" stroke="#000" stroke-width="0.9"/>
<circle cx="283.35" cy="548.7" r="1.8" fill="#fff" fill-opacity="0.25" stroke="#000" stroke-width="0.9"/>
<circle cx="288.55" cy="549.14" r="1.8" fill="#fff" fill-opacity="0.25" stroke="#000" stroke-width="0.9"/>
<circle cx="291.15" cy="549.5" r="1.8" fill="#fff" fill-opacity="0.25" stroke="#000" stroke-width="0.9"/>
<circle cx="285.95" cy="550.04" r="1.8" fill="#fff" fill-opacity="0.25" stroke="#000" stroke-width="0.9"/>
<circle cx="289.85" cy="550.47" r="1.8" fill="#fff" fill-opacity="0.25" stroke="#000" stroke-width="0.9"/>
<circle cx="292.45" cy="550.76" r="1.8" fill="#fff" fill-opacity="0.25" stroke="#000" stroke-width="0.9"/>
<circle cx="287.25" cy="551.27" r="1.8" fill="#fff" fill-opacity="0.25" stroke="#000" stroke-width="0.9"/>
<circle cx="284.65" cy="551.57" r="1.8" fill="#fff" fill-opacity="0.25" stroke="#000" stroke-width="0.9"/>
<circle cx="289.85" cy="552.2" r="1.8" fill="#fff" fill-opacity="0.25" stroke="#000" stroke-width="0.9"/>
<circle cx="285.95" cy="552.58" r="1.8" fill="#fff" fill-opacity="0.25" stroke="#000" stroke-width="0.9"/>
<circle cx="292.45" cy="552.84" r="1.8" fill="#fff" fill-opacity="0.25" stroke="#000" stroke-width="0.9"/>
<circle cx="288.55" cy="553.37" r="1.8" fill="#fff" fill-opacity="0.25" stroke="#000" stroke-width="0.9"/>
<circle cx="291.15" cy="553.81" r="1.8" fill="#fff" fill-opacity="0.25" stroke="#000" stroke-width="0.9"/>
<circle cx="284.65" cy="554.17" r="1.8" fill="#fff" fill-opacity="0.25" stroke="#000" stroke-width="0.9"/>
<circle cx="287.25" cy="554.68" r="1.8" fill="#fff" fill-opacity="0.25" stroke="#000" stroke-width="0.9"/>
<circle cx="289.85" cy="555.08" r="1.8" fill="#fff" fill-opacity="0.25" stroke="#000" stroke-width="0.9"/>
<circle cx="292.45" cy="555.43" r="1.8" fill="#fff" fill-opacity="0.25" stroke="#000" stroke-width="0.9"/>
<line x1="283.35" x2="293.75" y1="552.29" y2="552.29" stroke="#000" stroke-width="0.9"/>
<rect x="302.55" y="545.9" width="3.3" height="3.3" fill="#fff" fill-opacity="0.25" stroke="#000" stroke-width="0.9"/>
<rect x="305.15000000000003" y="546.38" width="3.3" height="3.3" fill="#fff" fill-opacity="0.25" stroke="#000" stroke-width="0.9"/>
<rect x="301.25" y="547.01" width="3.3" height="3.3" fill="#fff" fill-opacity="0.25" stroke="#000" stroke-width="0.9"/>
<rect x="303.85" y="547.97" width="3.3" height="3.3" fill="#fff" fill-opacity="0.25" stroke="#000" stroke-width="0.9"/>
<rect x="299.95000000000005" y="548.44" width="3.3" height="3.3" fill="#fff" fill-opacity="0.25" stroke="#000" stroke-width="0.9"/>
<rect x="306.45000000000005" y="548.89" width="3.3" height="3.3" fill="#fff" fill-opacity="0.25" stroke="#000" stroke-width="0.9"/>
<rect x="302.55" y="549.58" width="3.3" height="3.3" fill="#fff" fill-opacity="0.25" stroke="#000" stroke-width="0.9"/>
<rect x="299.95000000000005" y="550.23" width="3.3" height="3.3" fill="#fff" fill-opacity="0.25" stroke="#000" stroke-width="0.9"/>
<rect x="303.85" y="550.98" width="3.3" height="3.3" fill="#fff" fill-opacity="0.25" stroke="#000" stroke-width="0.9"/>
<rect x="301.25" y="551.73" width="3.3" height="3.3" fill="#fff" fill-opacity="0.25" stroke="#000" stroke-width="0.9"/>
<rect x="306.45000000000005" y="552.0400000000001" width="3.3" height="3.3" fill="#fff" fill-opacity="0.25" stroke="#000" stroke-width="0.9"/>
<rect x="303.85" y="552.73" width="3.3" height="3.3" fill="#fff" fill-opacity="0.25" stroke="#000" stroke-width="0.9"/>
<rect x="301.25" y="553.5500000000001" width="3.3" height="3.3" fill="#fff" fill-opacity="0.25" stroke="#000" stroke-width="0.9"/>
<rect x="305.15000000000003" y="554.13" width="3.3" height="3.3" fill="#fff" fill-opacity="0.25" stroke="#000" stroke-width="0.9"/>
<rect x="302.55" y="554.6800000000001" width="3.3" height="3.3" fill="#fff" fill-opacity="0.25" stroke="#000" stroke-width="0.9"/>
<rect x="299.95000000000005" y="555.41" width="3.3" height="3.3" fill="#fff" fill-opacity="0.25" stroke="#000" stroke-width="0.9"/>
<rect x="303.85" y="555.85" width="3.3" height="3.3" fill="#fff" fill-opacity="0.25" stroke="#000" stroke-width="0.9"/>
<rect x="301.25" y="556.78" width="3.3" height="3.3" fill="#fff" fill-opacity="0.25" stroke="#000" stroke-width="0.9"/>
<rect x="305.15000000000003" y="557.12" width="3.3" height="3.3" fill="#fff" fill-opacity="0.25" stroke="#000" stroke-width="0.9"/>
<rect x="298.65000000000003" y="557.78" width="3.3" height="3.3" fill="#fff" fill-opacity="0.25" stroke="#000" stroke-width="0.9"/>
<line x1="299.00000000000006" x2="309.40000000000003" y1="553.13" y2="553.13" stroke="#000" stroke-width="0.9"/>
<path d="M304.20000000000005 552.29 V553.97 M301.40000000000003 552.29 H307.00000000000006 M301.40000000000003 553.97 H307.00000000000006" stroke="#000" stroke-width="0.8" fill="none"/>
<path d="M319.85 546.5300000000001 L321.65000000000003 549.73 L318.05 549.73Z" fill="#fff" fill-opacity="0.25" stroke="#000" stroke-width="0.8"/>
<path d="M322.45 547.45 L324.25 550.65 L320.65 550.65Z" fill="#fff" fill-opacity="0.25" stroke="#000" stroke-width="0.8"/>
<path d="M318.55 547.9000000000001 L320.35 551.1 L316.75 551.1Z" fill="#fff" fill-opacity="0.25" stroke="#000" stroke-width="0.8"/>
<path d="M321.15 548.72 L322.95 551.92 L319.34999999999997 551.92Z" fill="#fff" fill-opacity="0.25" stroke="#000" stroke-width="0.8"/>
<path d="M317.25 549.4300000000001 L319.05 552.63 L315.45 552.63Z" fill="#fff" fill-opacity="0.25" stroke="#000" stroke-width="0.8"/>
<path d="M323.75 549.7700000000001 L325.55 552.97 L321.95 552.97Z" fill="#fff" fill-opacity="0.25" stroke="#000" stroke-width="0.8"/>
<path d="M319.85 550.7 L321.65000000000003 553.9 L318.05 553.9Z" fill="#fff" fill-opacity="0.25" stroke="#000" stroke-width="0.8"/>
<path d="M322.45 551.0400000000001 L324.25 554.24 L320.65 554.24Z" fill="#fff" fill-opacity="0.25" stroke="#000" stroke-width="0.8"/>
<path d="M317.25 551.71 L319.05 554.91 L315.45 554.91Z" fill="#fff" fill-opacity="0.25" stroke="#000" stroke-width="0.8"/>
<path d="M319.85 552.4200000000001 L321.65000000000003 555.62 L318.05 555.62Z" fill="#fff" fill-opacity="0.25" stroke="#000" stroke-width="0.8"/>
<path d="M322.45 553.0200000000001 L324.25 556.22 L320.65 556.22Z" fill="#fff" fill-opacity="0.25" stroke="#000" stroke-width="0.8"/>
<path d="M318.55 553.96 L320.35 557.16 L316.75 557.16Z" fill="#fff" fill-opacity="0.25" stroke="#000" stroke-width="0.8"/>
<path d="M321.15 554.2700000000001 L322.95 557.47 L319.34999999999997 557.47Z" fill="#fff" fill-opacity="0.25" stroke="#000" stroke-width="0.8"/>
<path d="M317.25 555.25 L319.05 558.4499999999999 L315.45 558.4499999999999Z" fill="#fff" fill-opacity="0.25" stroke="#000" stroke-width="0.8"/>
<path d="M319.85 555.87 L321.65000000000003 559.0699999999999 L318.05 559.0699999999999Z" fill="#fff" fill-opacity="0.25" stroke="#000" stroke-width="0.8"/>
<path d="M322.45 556.3100000000001 L324.25 559.51 L320.65 559.51Z" fill="#fff" fill-opacity="0.25" stroke="#000" stroke-width="0.8"/>
<path d="M318.55 557.09 L320.35 560.29 L316.75 560.29Z" fill="#fff" fill-opacity="0.25" stroke="#000" stroke-width="0.8"/>
<path d="M321.15 557.74 L322.95 560.9399999999999 L319.34999999999997 560.9399999999999Z" fill="#fff" fill-opacity="0.25" stroke="#000" stroke-width="0.8"/>
<line x1="314.65000000000003" x2="325.05" y1="553.13" y2="553.13" stroke="#000" stroke-width="0.9"/>
<path d="M319.85 552.29 V553.97 M317.05 552.29 H322.65000000000003 M317.05 553.97 H322.65000000000003" stroke="#000" stroke-width="0.8" fill="none"/>
<text x="266.25" y="535.5" font-size="12" font-weight="bold" class="b"><tspan font-style="italic">P</tspan> &lt; .0001</text>
<path d="M384.5 485.3 V570.3 H509.85" fill="none" stroke="#000" stroke-width="1.25"/>
<line x1="380.9" x2="384.5" y1="570.3" y2="570.3" stroke="#000" stroke-width="1"/>
<text x="380.8" y="572.5" font-size="6" font-weight="normal" font-style="normal" text-anchor="end" fill="#222">0</text>
<line x1="380.9" x2="384.5" y1="553.4" y2="553.4" stroke="#000" stroke-width="1"/>
<text x="380.8" y="555.6" font-size="6" font-weight="normal" font-style="normal" text-anchor="end" fill="#222">20</text>
<line x1="380.9" x2="384.5" y1="536.5" y2="536.5" stroke="#000" stroke-width="1"/>
<text x="380.8" y="538.7" font-size="6" font-weight="normal" font-style="normal" text-anchor="end" fill="#222">40</text>
<line x1="380.9" x2="384.5" y1="519.6" y2="519.6" stroke="#000" stroke-width="1"/>
<text x="380.8" y="521.8000000000001" font-size="6" font-weight="normal" font-style="normal" text-anchor="end" fill="#222">60</text>
<line x1="380.9" x2="384.5" y1="502.7" y2="502.7" stroke="#000" stroke-width="1"/>
<text x="380.8" y="504.9" font-size="6" font-weight="normal" font-style="normal" text-anchor="end" fill="#222">80</text>
<line x1="380.9" x2="384.5" y1="485.8" y2="485.8" stroke="#000" stroke-width="1"/>
<text x="380.8" y="488.0" font-size="6" font-weight="normal" font-style="normal" text-anchor="end" fill="#222">100</text>
<line x1="392.3" x2="392.3" y1="570.3" y2="573.6999999999999" stroke="#000" stroke-width="1"/>
<line x1="407.95" x2="407.95" y1="570.3" y2="573.6999999999999" stroke="#000" stroke-width="1"/>
<line x1="423.6" x2="423.6" y1="570.3" y2="573.6999999999999" stroke="#000" stroke-width="1"/>
<line x1="439.25" x2="439.25" y1="570.3" y2="573.6999999999999" stroke="#000" stroke-width="1"/>
<line x1="454.90000000000003" x2="454.90000000000003" y1="570.3" y2="573.6999999999999" stroke="#000" stroke-width="1"/>
<line x1="470.55" x2="470.55" y1="570.3" y2="573.6999999999999" stroke="#000" stroke-width="1"/>
<line x1="486.20000000000005" x2="486.20000000000005" y1="570.3" y2="573.6999999999999" stroke="#000" stroke-width="1"/>
<line x1="501.85" x2="501.85" y1="570.3" y2="573.6999999999999" stroke="#000" stroke-width="1"/>
<text x="447.5" y="476.7" font-size="15" font-weight="bold" font-style="normal" text-anchor="middle"  class="b">MCV</text>
<text transform="translate(365 525.5) rotate(-90)" font-size="14" font-weight="bold" class="b" text-anchor="middle">fL</text>
<circle cx="392.3" cy="530.86" r="1.7" fill="#000"/>
<circle cx="389.7" cy="531.32" r="1.7" fill="#000"/>
<circle cx="394.9" cy="531.71" r="1.7" fill="#000"/>
<circle cx="387.1" cy="532.08" r="1.7" fill="#000"/>
<circle cx="391.0" cy="532.42" r="1.7" fill="#000"/>
<circle cx="393.6" cy="532.92" r="1.7" fill="#000"/>
<circle cx="388.4" cy="533.27" r="1.7" fill="#000"/>
<circle cx="396.2" cy="533.67" r="1.7" fill="#000"/>
<circle cx="392.3" cy="534.3" r="1.7" fill="#000"/>
<circle cx="389.7" cy="534.54" r="1.7" fill="#000"/>
<circle cx="394.9" cy="534.95" r="1.7" fill="#000"/>
<circle cx="387.1" cy="535.35" r="1.7" fill="#000"/>
<circle cx="391.0" cy="535.98" r="1.7" fill="#000"/>
<circle cx="393.6" cy="536.34" r="1.7" fill="#000"/>
<circle cx="388.4" cy="536.76" r="1.7" fill="#000"/>
<circle cx="396.2" cy="537.22" r="1.7" fill="#000"/>
<line x1="387.1" x2="397.5" y1="533.965" y2="533.965" stroke="#000" stroke-width="0.9"/>
<rect x="406.34999999999997" y="521.38" width="3.2" height="3.2" fill="#000"/>
<rect x="406.34999999999997" y="524.76" width="3.2" height="3.2" fill="#000"/>
<rect x="406.34999999999997" y="529.12" width="3.2" height="3.2" fill="#000"/>
<rect x="403.75" y="529.63" width="3.2" height="3.2" fill="#000"/>
<rect x="408.95" y="530.03" width="3.2" height="3.2" fill="#000"/>
<rect x="411.54999999999995" y="530.52" width="3.2" height="3.2" fill="#000"/>
<rect x="406.34999999999997" y="530.8299999999999" width="3.2" height="3.2" fill="#000"/>
<rect x="402.45" y="531.22" width="3.2" height="3.2" fill="#000"/>
<rect x="410.25" y="531.68" width="3.2" height="3.2" fill="#000"/>
<rect x="405.04999999999995" y="532.09" width="3.2" height="3.2" fill="#000"/>
<rect x="407.65" y="532.62" width="3.2" height="3.2" fill="#000"/>
<rect x="402.45" y="533.12" width="3.2" height="3.2" fill="#000"/>
<line x1="402.75" x2="413.15" y1="531.8525" y2="531.8525" stroke="#000" stroke-width="0.9"/>
<path d="M407.95 531.0074999999999 V532.6975 M405.15 531.0074999999999 H410.75 M405.15 532.6975 H410.75" stroke="#000" stroke-width="0.8" fill="none"/>
<path d="M423.6 524.0400000000001 L425.5 527.44 L421.70000000000005 527.44Z" fill="#000"/>
<path d="M421.0 524.46 L422.9 527.86 L419.1 527.86Z" fill="#000"/>
<path d="M423.6 528.96 L425.5 532.36 L421.70000000000005 532.36Z" fill="#000"/>
<path d="M426.2 529.44 L428.09999999999997 532.84 L424.3 532.84Z" fill="#000"/>
<path d="M421.0 529.64 L422.9 533.04 L419.1 533.04Z" fill="#000"/>
<path d="M418.4 530.24 L420.29999999999995 533.64 L416.5 533.64Z" fill="#000"/>
<path d="M428.8 530.47 L430.7 533.87 L426.90000000000003 533.87Z" fill="#000"/>
<path d="M423.6 530.97 L425.5 534.37 L421.70000000000005 534.37Z" fill="#000"/>
<path d="M426.2 531.49 L428.09999999999997 534.89 L424.3 534.89Z" fill="#000"/>
<path d="M421.0 531.85 L422.9 535.25 L419.1 535.25Z" fill="#000"/>
<line x1="418.40000000000003" x2="428.8" y1="531.43" y2="531.43" stroke="#000" stroke-width="0.9"/>
<path d="M423.6 530.5849999999999 V532.275 M420.8 530.5849999999999 H426.40000000000003 M420.8 532.275 H426.40000000000003" stroke="#000" stroke-width="0.8" fill="none"/>
<path d="M439.25 531.64 L441.15 528.24 L437.35 528.24Z" fill="#000"/>
<path d="M439.25 535.02 L441.15 531.62 L437.35 531.62Z" fill="#000"/>
<path d="M435.35 535.87 L437.25 532.47 L433.45000000000005 532.47Z" fill="#000"/>
<path d="M443.15 536.29 L445.04999999999995 532.89 L441.25 532.89Z" fill="#000"/>
<path d="M435.35 537.13 L437.25 533.73 L433.45000000000005 533.73Z" fill="#000"/>
<line x1="434.05" x2="444.45" y1="533.7115" y2="533.7115" stroke="#000" stroke-width="0.9"/>
<path d="M439.25 532.8665 V534.5565 M436.45 532.8665 H442.05 M436.45 534.5565 H442.05" stroke="#000" stroke-width="0.8" fill="none"/>
<path d="M454.9 499.11 L456.5 501.01 L454.9 502.90999999999997 L453.29999999999995 501.01Z" fill="#000"/>
<path d="M454.9 505.87 L456.5 507.77 L454.9 509.66999999999996 L453.29999999999995 507.77Z" fill="#000"/>
<path d="M454.9 509.88 L456.5 511.78 L454.9 513.68 L453.29999999999995 511.78Z" fill="#000"/>
<path d="M458.8 510.71000000000004 L460.40000000000003 512.61 L458.8 514.51 L457.2 512.61Z" fill="#000"/>
<path d="M452.3 512.15 L453.90000000000003 514.05 L452.3 515.9499999999999 L450.7 514.05Z" fill="#000"/>
<path d="M456.2 513.34 L457.8 515.24 L456.2 517.14 L454.59999999999997 515.24Z" fill="#000"/>
<path d="M449.7 514.59 L451.3 516.49 L449.7 518.39 L448.09999999999997 516.49Z" fill="#000"/>
<path d="M453.6 515.59 L455.20000000000005 517.49 L453.6 519.39 L452.0 517.49Z" fill="#000"/>
<path d="M456.2 517.2900000000001 L457.8 519.19 L456.2 521.09 L454.59999999999997 519.19Z" fill="#000"/>
<path d="M452.3 518.4300000000001 L453.90000000000003 520.33 L452.3 522.23 L450.7 520.33Z" fill="#000"/>
<path d="M458.8 519.24 L460.40000000000003 521.14 L458.8 523.04 L457.2 521.14Z" fill="#000"/>
<path d="M454.9 520.84 L456.5 522.74 L454.9 524.64 L453.29999999999995 522.74Z" fill="#000"/>
<path d="M451.0 521.75 L452.6 523.65 L451.0 525.55 L449.4 523.65Z" fill="#000"/>
<path d="M457.5 522.8100000000001 L459.1 524.71 L457.5 526.61 L455.9 524.71Z" fill="#000"/>
<path d="M453.6 524.16 L455.20000000000005 526.06 L453.6 527.9599999999999 L452.0 526.06Z" fill="#000"/>
<path d="M458.8 525.74 L460.40000000000003 527.64 L458.8 529.54 L457.2 527.64Z" fill="#000"/>
<line x1="449.70000000000005" x2="460.1" y1="518.755" y2="518.755" stroke="#000" stroke-width="0.9"/>
<path d="M454.90000000000003 517.0649999999999 V520.445 M452.1 517.0649999999999 H457.70000000000005 M452.1 520.445 H457.70000000000005" stroke="#000" stroke-width="0.8" fill="none"/>
<circle cx="470.55" cy="510.21" r="1.8" fill="#fff" fill-opacity="0.25" stroke="#000" stroke-width="0.9"/>
<circle cx="466.65" cy="511.04" r="1.8" fill="#fff" fill-opacity="0.25" stroke="#000" stroke-width="0.9"/>
<circle cx="473.15" cy="512.93" r="1.8" fill="#fff" fill-opacity="0.25" stroke="#000" stroke-width="0.9"/>
<circle cx="469.25" cy="514.26" r="1.8" fill="#fff" fill-opacity="0.25" stroke="#000" stroke-width="0.9"/>
<circle cx="465.35" cy="515.43" r="1.8" fill="#fff" fill-opacity="0.25" stroke="#000" stroke-width="0.9"/>
<circle cx="471.85" cy="516.12" r="1.8" fill="#fff" fill-opacity="0.25" stroke="#000" stroke-width="0.9"/>
<circle cx="469.25" cy="518.02" r="1.8" fill="#fff" fill-opacity="0.25" stroke="#000" stroke-width="0.9"/>
<circle cx="474.45" cy="518.87" r="1.8" fill="#fff" fill-opacity="0.25" stroke="#000" stroke-width="0.9"/>
<circle cx="466.65" cy="520.45" r="1.8" fill="#fff" fill-opacity="0.25" stroke="#000" stroke-width="0.9"/>
<circle cx="470.55" cy="521.65" r="1.8" fill="#fff" fill-opacity="0.25" stroke="#000" stroke-width="0.9"/>
<circle cx="474.45" cy="522.72" r="1.8" fill="#fff" fill-opacity="0.25" stroke="#000" stroke-width="0.9"/>
<circle cx="467.95" cy="523.87" r="1.8" fill="#fff" fill-opacity="0.25" stroke="#000" stroke-width="0.9"/>
<circle cx="471.85" cy="525.35" r="1.8" fill="#fff" fill-opacity="0.25" stroke="#000" stroke-width="0.9"/>
<circle cx="465.35" cy="526.3" r="1.8" fill="#fff" fill-opacity="0.25" stroke="#000" stroke-width="0.9"/>
<circle cx="469.25" cy="527.69" r="1.8" fill="#fff" fill-opacity="0.25" stroke="#000" stroke-width="0.9"/>
<circle cx="473.15" cy="528.85" r="1.8" fill="#fff" fill-opacity="0.25" stroke="#000" stroke-width="0.9"/>
<circle cx="470.55" cy="534.81" r="1.8" fill="#fff" fill-opacity="0.25" stroke="#000" stroke-width="0.9"/>
<line x1="465.35" x2="475.75" y1="521.29" y2="521.29" stroke="#000" stroke-width="0.9"/>
<path d="M470.55 519.769 V522.8109999999999 M467.75 519.769 H473.35 M467.75 522.8109999999999 H473.35" stroke="#000" stroke-width="0.8" fill="none"/>
<rect x="484.55" y="506.35" width="3.3" height="3.3" fill="#fff" fill-opacity="0.25" stroke="#000" stroke-width="0.9"/>
<rect x="488.45000000000005" y="507.07000000000005" width="3.3" height="3.3" fill="#fff" fill-opacity="0.25" stroke="#000" stroke-width="0.9"/>
<rect x="481.95000000000005" y="508.55" width="3.3" height="3.3" fill="#fff" fill-opacity="0.25" stroke="#000" stroke-width="0.9"/>
<rect x="485.85" y="510.05" width="3.3" height="3.3" fill="#fff" fill-opacity="0.25" stroke="#000" stroke-width="0.9"/>
<rect x="483.25" y="512.2" width="3.3" height="3.3" fill="#fff" fill-opacity="0.25" stroke="#000" stroke-width="0.9"/>
<rect x="487.15000000000003" y="512.94" width="3.3" height="3.3" fill="#fff" fill-opacity="0.25" stroke="#000" stroke-width="0.9"/>
<rect x="480.65000000000003" y="514.46" width="3.3" height="3.3" fill="#fff" fill-opacity="0.25" stroke="#000" stroke-width="0.9"/>
<rect x="484.55" y="515.91" width="3.3" height="3.3" fill="#fff" fill-opacity="0.25" stroke="#000" stroke-width="0.9"/>
<rect x="481.95000000000005" y="517.76" width="3.3" height="3.3" fill="#fff" fill-opacity="0.25" stroke="#000" stroke-width="0.9"/>
<rect x="485.85" y="519.02" width="3.3" height="3.3" fill="#fff" fill-opacity="0.25" stroke="#000" stroke-width="0.9"/>
<rect x="483.25" y="520.9300000000001" width="3.3" height="3.3" fill="#fff" fill-opacity="0.25" stroke="#000" stroke-width="0.9"/>
<rect x="488.45000000000005" y="521.8000000000001" width="3.3" height="3.3" fill="#fff" fill-opacity="0.25" stroke="#000" stroke-width="0.9"/>
<rect x="480.65000000000003" y="523.2900000000001" width="3.3" height="3.3" fill="#fff" fill-opacity="0.25" stroke="#000" stroke-width="0.9"/>
<rect x="484.55" y="524.8000000000001" width="3.3" height="3.3" fill="#fff" fill-opacity="0.25" stroke="#000" stroke-width="0.9"/>
<rect x="488.45000000000005" y="526.21" width="3.3" height="3.3" fill="#fff" fill-opacity="0.25" stroke="#000" stroke-width="0.9"/>
<rect x="484.55" y="528.23" width="3.3" height="3.3" fill="#fff" fill-opacity="0.25" stroke="#000" stroke-width="0.9"/>
<rect x="488.45000000000005" y="529.7" width="3.3" height="3.3" fill="#fff" fill-opacity="0.25" stroke="#000" stroke-width="0.9"/>
<rect x="483.25" y="531.0600000000001" width="3.3" height="3.3" fill="#fff" fill-opacity="0.25" stroke="#000" stroke-width="0.9"/>
<line x1="481.00000000000006" x2="491.40000000000003" y1="521.29" y2="521.29" stroke="#000" stroke-width="0.9"/>
<path d="M486.20000000000005 519.5999999999999 V522.98 M483.40000000000003 519.5999999999999 H489.00000000000006 M483.40000000000003 522.98 H489.00000000000006" stroke="#000" stroke-width="0.8" fill="none"/>
<path d="M501.85 500.06 L503.65000000000003 503.26 L500.05 503.26Z" fill="#fff" fill-opacity="0.25" stroke="#000" stroke-width="0.8"/>
<path d="M501.85 511.92 L503.65000000000003 515.12 L500.05 515.12Z" fill="#fff" fill-opacity="0.25" stroke="#000" stroke-width="0.8"/>
<path d="M505.75 512.7900000000001 L507.55 515.99 L503.95 515.99Z" fill="#fff" fill-opacity="0.25" stroke="#000" stroke-width="0.8"/>
<path d="M499.25 514.6 L501.05 517.8 L497.45 517.8Z" fill="#fff" fill-opacity="0.25" stroke="#000" stroke-width="0.8"/>
<path d="M503.15 515.9000000000001 L504.95 519.1 L501.34999999999997 519.1Z" fill="#fff" fill-opacity="0.25" stroke="#000" stroke-width="0.8"/>
<path d="M496.65 517.0600000000001 L498.45 520.26 L494.84999999999997 520.26Z" fill="#fff" fill-opacity="0.25" stroke="#000" stroke-width="0.8"/>
<path d="M500.55 518.09 L502.35 521.29 L498.75 521.29Z" fill="#fff" fill-opacity="0.25" stroke="#000" stroke-width="0.8"/>
<path d="M504.45 519.24 L506.25 522.4399999999999 L502.65 522.4399999999999Z" fill="#fff" fill-opacity="0.25" stroke="#000" stroke-width="0.8"/>
<path d="M497.95 520.69 L499.75 523.89 L496.15 523.89Z" fill="#fff" fill-opacity="0.25" stroke="#000" stroke-width="0.8"/>
<path d="M501.85 521.85 L503.65000000000003 525.05 L500.05 525.05Z" fill="#fff" fill-opacity="0.25" stroke="#000" stroke-width="0.8"/>
<path d="M505.75 523.12 L507.55 526.3199999999999 L503.95 526.3199999999999Z" fill="#fff" fill-opacity="0.25" stroke="#000" stroke-width="0.8"/>
<path d="M501.85 525.0500000000001 L503.65000000000003 528.25 L500.05 528.25Z" fill="#fff" fill-opacity="0.25" stroke="#000" stroke-width="0.8"/>
<path d="M497.95 526.2900000000001 L499.75 529.49 L496.15 529.49Z" fill="#fff" fill-opacity="0.25" stroke="#000" stroke-width="0.8"/>
<path d="M504.45 527.5200000000001 L506.25 530.72 L502.65 530.72Z" fill="#fff" fill-opacity="0.25" stroke="#000" stroke-width="0.8"/>
<line x1="496.65000000000003" x2="507.05" y1="518.755" y2="518.755" stroke="#000" stroke-width="0.9"/>
<path d="M501.85 516.896 V520.614 M499.05 516.896 H504.65000000000003 M499.05 520.614 H504.65000000000003" stroke="#000" stroke-width="0.8" fill="none"/>
<text x="390" y="507.5" font-size="12" font-weight="bold" class="b"><tspan font-style="italic">P</tspan> &lt; .0005</text>
<path d="M30 621.75 V706.25 H155.35" fill="none" stroke="#000" stroke-width="1.25"/>
<line x1="26.4" x2="30" y1="706.25" y2="706.25" stroke="#000" stroke-width="1"/>
<text x="26.3" y="708.45" font-size="6" font-weight="normal" font-style="normal" text-anchor="end" fill="#222">0</text>
<line x1="26.4" x2="30" y1="685.25" y2="685.25" stroke="#000" stroke-width="1"/>
<text x="26.3" y="687.45" font-size="6" font-weight="normal" font-style="normal" text-anchor="end" fill="#222">20</text>
<line x1="26.4" x2="30" y1="664.25" y2="664.25" stroke="#000" stroke-width="1"/>
<text x="26.3" y="666.45" font-size="6" font-weight="normal" font-style="normal" text-anchor="end" fill="#222">40</text>
<line x1="26.4" x2="30" y1="643.25" y2="643.25" stroke="#000" stroke-width="1"/>
<text x="26.3" y="645.45" font-size="6" font-weight="normal" font-style="normal" text-anchor="end" fill="#222">60</text>
<line x1="26.4" x2="30" y1="622.25" y2="622.25" stroke="#000" stroke-width="1"/>
<text x="26.3" y="624.45" font-size="6" font-weight="normal" font-style="normal" text-anchor="end" fill="#222">80</text>
<line x1="37.8" x2="37.8" y1="706.25" y2="709.65" stroke="#000" stroke-width="1"/>
<line x1="53.449999999999996" x2="53.449999999999996" y1="706.25" y2="709.65" stroke="#000" stroke-width="1"/>
<line x1="69.1" x2="69.1" y1="706.25" y2="709.65" stroke="#000" stroke-width="1"/>
<line x1="84.75" x2="84.75" y1="706.25" y2="709.65" stroke="#000" stroke-width="1"/>
<line x1="100.4" x2="100.4" y1="706.25" y2="709.65" stroke="#000" stroke-width="1"/>
<line x1="116.05" x2="116.05" y1="706.25" y2="709.65" stroke="#000" stroke-width="1"/>
<line x1="131.7" x2="131.7" y1="706.25" y2="709.65" stroke="#000" stroke-width="1"/>
<line x1="147.35" x2="147.35" y1="706.25" y2="709.65" stroke="#000" stroke-width="1"/>
<text x="99.5" y="612.3" font-size="15" font-weight="bold" font-style="normal" text-anchor="middle"  class="b">WBC</text>
<text transform="translate(12 656.5) rotate(-90)" font-size="14" font-weight="bold" class="b" text-anchor="middle">K/<tspan font-weight="normal" font-size="13" stroke-width="0.15">µ</tspan>L</text>
<circle cx="37.8" cy="684.73" r="1.7" fill="#000"/>
<circle cx="37.8" cy="689.45" r="1.7" fill="#000"/>
<circle cx="37.8" cy="693.65" r="1.7" fill="#000"/>
<circle cx="33.9" cy="694.7" r="1.7" fill="#000"/>
<circle cx="41.7" cy="694.7" r="1.7" fill="#000"/>
<circle cx="35.2" cy="695.75" r="1.7" fill="#000"/>
<circle cx="41.7" cy="695.75" r="1.7" fill="#000"/>
<circle cx="40.4" cy="696.8" r="1.7" fill="#000"/>
<circle cx="32.6" cy="697.85" r="1.7" fill="#000"/>
<circle cx="37.8" cy="698.9" r="1.7" fill="#000"/>
<circle cx="37.8" cy="702.05" r="1.7" fill="#000"/>
<line x1="32.599999999999994" x2="43.0" y1="695.225" y2="695.225" stroke="#000" stroke-width="0.9"/>
<path d="M37.8 693.965 V696.485 M35.0 693.965 H40.599999999999994 M35.0 696.485 H40.599999999999994" stroke="#000" stroke-width="0.8" fill="none"/>
<rect x="51.85" y="682.6" width="3.2" height="3.2" fill="#000"/>
<rect x="51.85" y="685.75" width="3.2" height="3.2" fill="#000"/>
<rect x="47.949999999999996" y="686.8" width="3.2" height="3.2" fill="#000"/>
<rect x="51.85" y="689.16" width="3.2" height="3.2" fill="#000"/>
<rect x="47.949999999999996" y="690.05" width="3.2" height="3.2" fill="#000"/>
<rect x="54.449999999999996" y="690.88" width="3.2" height="3.2" fill="#000"/>
<rect x="54.449999999999996" y="691.87" width="3.2" height="3.2" fill="#000"/>
<rect x="50.55" y="692.66" width="3.2" height="3.2" fill="#000"/>
<rect x="46.65" y="693.27" width="3.2" height="3.2" fill="#000"/>
<rect x="57.05" y="694.3199999999999" width="3.2" height="3.2" fill="#000"/>
<rect x="53.15" y="695.05" width="3.2" height="3.2" fill="#000"/>
<rect x="49.25" y="695.7099999999999" width="3.2" height="3.2" fill="#000"/>
<line x1="48.24999999999999" x2="58.65" y1="693.125" y2="693.125" stroke="#000" stroke-width="0.9"/>
<path d="M53.449999999999996 691.97 V694.28 M50.65 691.97 H56.24999999999999 M50.65 694.28 H56.24999999999999" stroke="#000" stroke-width="0.8" fill="none"/>
<path d="M69.1 688.6 L71.0 692.0 L67.19999999999999 692.0Z" fill="#000"/>
<path d="M71.7 690.7 L73.60000000000001 694.1 L69.8 694.1Z" fill="#000"/>
<path d="M69.1 693.26 L71.0 696.66 L67.19999999999999 696.66Z" fill="#000"/>
<path d="M73.0 693.65 L74.9 697.05 L71.1 697.05Z" fill="#000"/>
<path d="M65.2 694.51 L67.10000000000001 697.91 L63.300000000000004 697.91Z" fill="#000"/>
<path d="M73.0 695.11 L74.9 698.51 L71.1 698.51Z" fill="#000"/>
<path d="M65.2 696.1 L67.10000000000001 699.5 L63.300000000000004 699.5Z" fill="#000"/>
<path d="M69.1 696.85 L71.0 700.25 L67.19999999999999 700.25Z" fill="#000"/>
<path d="M71.7 697.26 L73.60000000000001 700.66 L69.8 700.66Z" fill="#000"/>
<path d="M63.9 697.89 L65.8 701.29 L62.0 701.29Z" fill="#000"/>
<path d="M66.5 698.71 L68.4 702.11 L64.6 702.11Z" fill="#000"/>
<line x1="63.89999999999999" x2="74.3" y1="696.8" y2="696.8" stroke="#000" stroke-width="0.9"/>
<path d="M69.1 695.8549999999999 V697.745 M66.3 695.8549999999999 H71.89999999999999 M66.3 697.745 H71.89999999999999" stroke="#000" stroke-width="0.8" fill="none"/>
<path d="M84.75 676.65 L86.65 673.25 L82.85 673.25Z" fill="#000"/>
<path d="M84.75 696.6 L86.65 693.2 L82.85 693.2Z" fill="#000"/>
<path d="M80.85 697.65 L82.75 694.25 L78.94999999999999 694.25Z" fill="#000"/>
<path d="M87.35 698.6999999999999 L89.25 695.3 L85.44999999999999 695.3Z" fill="#000"/>
<line x1="79.55" x2="89.95" y1="692.075" y2="692.075" stroke="#000" stroke-width="0.9"/>
<path d="M84.75 687.6650000000001 V696.485 M81.95 687.6650000000001 H87.55 M81.95 696.485 H87.55" stroke="#000" stroke-width="0.8" fill="none"/>
<path d="M100.4 659.2 L102.0 661.1 L100.4 663.0 L98.80000000000001 661.1Z" fill="#000"/>
<path d="M104.3 660.25 L105.89999999999999 662.15 L104.3 664.05 L102.7 662.15Z" fill="#000"/>
<path d="M100.4 672.85 L102.0 674.75 L100.4 676.65 L98.80000000000001 674.75Z" fill="#000"/>
<path d="M100.4 681.25 L102.0 683.15 L100.4 685.05 L98.80000000000001 683.15Z" fill="#000"/>
<path d="M97.8 683.35 L99.39999999999999 685.25 L97.8 687.15 L96.2 685.25Z" fill="#000"/>
<path d="M101.7 684.4 L103.3 686.3 L101.7 688.1999999999999 L100.10000000000001 686.3Z" fill="#000"/>
<path d="M99.1 686.5 L100.69999999999999 688.4 L99.1 690.3 L97.5 688.4Z" fill="#000"/>
<path d="M101.7 688.6 L103.3 690.5 L101.7 692.4 L100.10000000000001 690.5Z" fill="#000"/>
<path d="M100.4 691.75 L102.0 693.65 L100.4 695.55 L98.80000000000001 693.65Z" fill="#000"/>
<path d="M104.3 692.8000000000001 L105.89999999999999 694.7 L104.3 696.6 L102.7 694.7Z" fill="#000"/>
<path d="M97.8 693.85 L99.39999999999999 695.75 L97.8 697.65 L96.2 695.75Z" fill="#000"/>
<path d="M100.4 695.95 L102.0 697.85 L100.4 699.75 L98.80000000000001 697.85Z" fill="#000"/>
<line x1="95.2" x2="105.60000000000001" y1="685.25" y2="685.25" stroke="#000" stroke-width="0.9"/>
<path d="M100.4 681.89 V688.61 M97.60000000000001 681.89 H103.2 M97.60000000000001 688.61 H103.2" stroke="#000" stroke-width="0.8" fill="none"/>
<circle cx="116.05" cy="667.4" r="1.8" fill="#fff" fill-opacity="0.25" stroke="#000" stroke-width="0.9"/>
<circle cx="116.05" cy="671.6" r="1.8" fill="#fff" fill-opacity="0.25" stroke="#000" stroke-width="0.9"/>
<circle cx="116.05" cy="680.0" r="1.8" fill="#fff" fill-opacity="0.25" stroke="#000" stroke-width="0.9"/>
<circle cx="112.15" cy="681.05" r="1.8" fill="#fff" fill-opacity="0.25" stroke="#000" stroke-width="0.9"/>
<circle cx="116.05" cy="683.15" r="1.8" fill="#fff" fill-opacity="0.25" stroke="#000" stroke-width="0.9"/>
<circle cx="112.15" cy="684.2" r="1.8" fill="#fff" fill-opacity="0.25" stroke="#000" stroke-width="0.9"/>
<circle cx="118.65" cy="685.25" r="1.8" fill="#fff" fill-opacity="0.25" stroke="#000" stroke-width="0.9"/>
<circle cx="116.05" cy="687.35" r="1.8" fill="#fff" fill-opacity="0.25" stroke="#000" stroke-width="0.9"/>
<circle cx="118.65" cy="689.45" r="1.8" fill="#fff" fill-opacity="0.25" stroke="#000" stroke-width="0.9"/>
<circle cx="116.05" cy="691.55" r="1.8" fill="#fff" fill-opacity="0.25" stroke="#000" stroke-width="0.9"/>
<circle cx="113.45" cy="693.65" r="1.8" fill="#fff" fill-opacity="0.25" stroke="#000" stroke-width="0.9"/>
<circle cx="116.05" cy="697.85" r="1.8" fill="#fff" fill-opacity="0.25" stroke="#000" stroke-width="0.9"/>
<line x1="110.85" x2="121.25" y1="684.2" y2="684.2" stroke="#000" stroke-width="0.9"/>
<path d="M116.05 681.7850000000001 V686.615 M113.25 681.7850000000001 H118.85 M113.25 686.615 H118.85" stroke="#000" stroke-width="0.8" fill="none"/>
<rect x="130.04999999999998" y="667.85" width="3.3" height="3.3" fill="#fff" fill-opacity="0.25" stroke="#000" stroke-width="0.9"/>
<rect x="127.44999999999999" y="669.95" width="3.3" height="3.3" fill="#fff" fill-opacity="0.25" stroke="#000" stroke-width="0.9"/>
<rect x="130.04999999999998" y="673.1" width="3.3" height="3.3" fill="#fff" fill-opacity="0.25" stroke="#000" stroke-width="0.9"/>
<rect x="130.04999999999998" y="677.59" width="3.3" height="3.3" fill="#fff" fill-opacity="0.25" stroke="#000" stroke-width="0.9"/>
<rect x="126.14999999999999" y="679.27" width="3.3" height="3.3" fill="#fff" fill-opacity="0.25" stroke="#000" stroke-width="0.9"/>
<rect x="132.65" y="680.35" width="3.3" height="3.3" fill="#fff" fill-opacity="0.25" stroke="#000" stroke-width="0.9"/>
<rect x="128.75" y="681.47" width="3.3" height="3.3" fill="#fff" fill-opacity="0.25" stroke="#000" stroke-width="0.9"/>
<rect x="124.85" y="682.37" width="3.3" height="3.3" fill="#fff" fill-opacity="0.25" stroke="#000" stroke-width="0.9"/>
<rect x="131.35" y="683.69" width="3.3" height="3.3" fill="#fff" fill-opacity="0.25" stroke="#000" stroke-width="0.9"/>
<rect x="127.44999999999999" y="684.99" width="3.3" height="3.3" fill="#fff" fill-opacity="0.25" stroke="#000" stroke-width="0.9"/>
<rect x="133.95" y="685.77" width="3.3" height="3.3" fill="#fff" fill-opacity="0.25" stroke="#000" stroke-width="0.9"/>
<rect x="130.04999999999998" y="687.2" width="3.3" height="3.3" fill="#fff" fill-opacity="0.25" stroke="#000" stroke-width="0.9"/>
<rect x="126.14999999999999" y="688.35" width="3.3" height="3.3" fill="#fff" fill-opacity="0.25" stroke="#000" stroke-width="0.9"/>
<rect x="130.04999999999998" y="700.4" width="3.3" height="3.3" fill="#fff" fill-opacity="0.25" stroke="#000" stroke-width="0.9"/>
<line x1="126.49999999999999" x2="136.89999999999998" y1="683.675" y2="683.675" stroke="#000" stroke-width="0.9"/>
<path d="M131.7 681.5749999999999 V685.775 M128.89999999999998 681.5749999999999 H134.5 M128.89999999999998 685.775 H134.5" stroke="#000" stroke-width="0.8" fill="none"/>
<path d="M147.35 641.45 L149.15 644.65 L145.54999999999998 644.65Z" fill="#fff" fill-opacity="0.25" stroke="#000" stroke-width="0.8"/>
<path d="M147.35 673.72 L149.15 676.92 L145.54999999999998 676.92Z" fill="#fff" fill-opacity="0.25" stroke="#000" stroke-width="0.8"/>
<path d="M151.25 675.37 L153.05 678.5699999999999 L149.45 678.5699999999999Z" fill="#fff" fill-opacity="0.25" stroke="#000" stroke-width="0.8"/>
<path d="M146.05 676.72 L147.85000000000002 679.92 L144.25 679.92Z" fill="#fff" fill-opacity="0.25" stroke="#000" stroke-width="0.8"/>
<path d="M148.65 678.5600000000001 L150.45000000000002 681.76 L146.85 681.76Z" fill="#fff" fill-opacity="0.25" stroke="#000" stroke-width="0.8"/>
<path d="M144.75 679.9300000000001 L146.55 683.13 L142.95 683.13Z" fill="#fff" fill-opacity="0.25" stroke="#000" stroke-width="0.8"/>
<path d="M149.95 681.37 L151.75 684.5699999999999 L148.14999999999998 684.5699999999999Z" fill="#fff" fill-opacity="0.25" stroke="#000" stroke-width="0.8"/>
<path d="M147.35 683.7900000000001 L149.15 686.99 L145.54999999999998 686.99Z" fill="#fff" fill-opacity="0.25" stroke="#000" stroke-width="0.8"/>
<path d="M151.25 684.59 L153.05 687.79 L149.45 687.79Z" fill="#fff" fill-opacity="0.25" stroke="#000" stroke-width="0.8"/>
<path d="M144.75 686.3000000000001 L146.55 689.5 L142.95 689.5Z" fill="#fff" fill-opacity="0.25" stroke="#000" stroke-width="0.8"/>
<path d="M147.35 688.6400000000001 L149.15 691.84 L145.54999999999998 691.84Z" fill="#fff" fill-opacity="0.25" stroke="#000" stroke-width="0.8"/>
<path d="M151.25 690.12 L153.05 693.3199999999999 L149.45 693.3199999999999Z" fill="#fff" fill-opacity="0.25" stroke="#000" stroke-width="0.8"/>
<path d="M144.75 691.25 L146.55 694.4499999999999 L142.95 694.4499999999999Z" fill="#fff" fill-opacity="0.25" stroke="#000" stroke-width="0.8"/>
<path d="M148.65 692.8900000000001 L150.45000000000002 696.09 L146.85 696.09Z" fill="#fff" fill-opacity="0.25" stroke="#000" stroke-width="0.8"/>
<line x1="142.15" x2="152.54999999999998" y1="683.15" y2="683.15" stroke="#000" stroke-width="0.9"/>
<path d="M147.35 680.0 V686.3 M144.54999999999998 680.0 H150.15 M144.54999999999998 686.3 H150.15" stroke="#000" stroke-width="0.8" fill="none"/>
<text x="36.25" y="729" font-size="12.8" font-weight="normal" font-style="normal" text-anchor="middle" stroke="#000" stroke-width="0.45">Ø</text>
<text x="50.4" y="729" font-size="12.6" font-weight="bold" font-style="normal" text-anchor="middle" stroke="#000" stroke-width="0.25">E</text>
<text x="63.75" y="729" font-size="12.6" font-weight="bold" font-style="normal" text-anchor="middle" stroke="#000" stroke-width="0.25">P</text>
<text x="81.4" y="729" font-size="12.6" font-weight="bold" font-style="normal" text-anchor="middle" stroke="#000" stroke-width="0.25">EP</text>
<text x="100" y="729" font-size="12.8" font-weight="normal" font-style="normal" text-anchor="middle" stroke="#000" stroke-width="0.45">Ø</text>
<text x="114" y="729" font-size="12.6" font-weight="bold" font-style="normal" text-anchor="middle" stroke="#000" stroke-width="0.25">E</text>
<text x="127.5" y="729" font-size="12.6" font-weight="bold" font-style="normal" text-anchor="middle" stroke="#000" stroke-width="0.25">P</text>
<text x="145.4" y="729" font-size="12.6" font-weight="bold" font-style="normal" text-anchor="middle" stroke="#000" stroke-width="0.25">EP</text>
<path d="M33.75 736.2 V739.7 Q33.75 742.7 36.75 742.7 H56.875 Q59.375 742.7 59.375 747.5 Q59.375 742.7 61.875 742.7 H82 Q85 742.7 85 739.7 V736.2" fill="none" stroke="#000" stroke-width="1.4"/>
<text x="34.2" y="763.8" font-size="15.3" font-weight="bold" class="b" font-style="italic">Apc<tspan font-size="10.3" dy="-5.8" dx="0.6">fl/+</tspan></text>
<path d="M98 736.2 V739.7 Q98 742.7 101 742.7 H120.875 Q123.375 742.7 123.375 747.5 Q123.375 742.7 125.875 742.7 H145.75 Q148.75 742.7 148.75 739.7 V736.2" fill="none" stroke="#000" stroke-width="1.4"/>
<text x="95" y="763.8" font-size="15.3" font-weight="bold" class="b" font-style="italic">Apc<tspan font-size="10.3" dy="-5.8" dx="0.6">del/+</tspan></text>
<path d="M202.5 622.0 V706.25 H327.85" fill="none" stroke="#000" stroke-width="1.25"/>
<line x1="198.9" x2="202.5" y1="706.25" y2="706.25" stroke="#000" stroke-width="1"/>
<text x="198.8" y="708.45" font-size="6" font-weight="normal" font-style="normal" text-anchor="end" fill="#222">0</text>
<line x1="198.9" x2="202.5" y1="689.5" y2="689.5" stroke="#000" stroke-width="1"/>
<text x="198.8" y="691.7" font-size="6" font-weight="normal" font-style="normal" text-anchor="end" fill="#222">1</text>
<line x1="198.9" x2="202.5" y1="672.75" y2="672.75" stroke="#000" stroke-width="1"/>
<text x="198.8" y="674.95" font-size="6" font-weight="normal" font-style="normal" text-anchor="end" fill="#222">2</text>
<line x1="198.9" x2="202.5" y1="656.0" y2="656.0" stroke="#000" stroke-width="1"/>
<text x="198.8" y="658.2" font-size="6" font-weight="normal" font-style="normal" text-anchor="end" fill="#222">3</text>
<line x1="198.9" x2="202.5" y1="639.25" y2="639.25" stroke="#000" stroke-width="1"/>
<text x="198.8" y="641.45" font-size="6" font-weight="normal" font-style="normal" text-anchor="end" fill="#222">4</text>
<line x1="198.9" x2="202.5" y1="622.5" y2="622.5" stroke="#000" stroke-width="1"/>
<text x="198.8" y="624.7" font-size="6" font-weight="normal" font-style="normal" text-anchor="end" fill="#222">5</text>
<line x1="210.3" x2="210.3" y1="706.25" y2="709.65" stroke="#000" stroke-width="1"/>
<line x1="225.95000000000002" x2="225.95000000000002" y1="706.25" y2="709.65" stroke="#000" stroke-width="1"/>
<line x1="241.60000000000002" x2="241.60000000000002" y1="706.25" y2="709.65" stroke="#000" stroke-width="1"/>
<line x1="257.25" x2="257.25" y1="706.25" y2="709.65" stroke="#000" stroke-width="1"/>
<line x1="272.90000000000003" x2="272.90000000000003" y1="706.25" y2="709.65" stroke="#000" stroke-width="1"/>
<line x1="288.55" x2="288.55" y1="706.25" y2="709.65" stroke="#000" stroke-width="1"/>
<line x1="304.20000000000005" x2="304.20000000000005" y1="706.25" y2="709.65" stroke="#000" stroke-width="1"/>
<line x1="319.85" x2="319.85" y1="706.25" y2="709.65" stroke="#000" stroke-width="1"/>
<text x="272" y="612.3" font-size="15" font-weight="bold" font-style="normal" text-anchor="middle"  class="b">MO</text>
<text transform="translate(184 656.5) rotate(-90)" font-size="14" font-weight="bold" class="b" text-anchor="middle">K/<tspan font-weight="normal" font-size="13" stroke-width="0.15">µ</tspan>L</text>
<circle cx="210.3" cy="686.15" r="1.7" fill="#000"/>
<circle cx="210.3" cy="694.83" r="1.7" fill="#000"/>
<circle cx="214.2" cy="695.45" r="1.7" fill="#000"/>
<circle cx="206.4" cy="696.43" r="1.7" fill="#000"/>
<circle cx="209.0" cy="697.09" r="1.7" fill="#000"/>
<circle cx="214.2" cy="698.05" r="1.7" fill="#000"/>
<circle cx="211.6" cy="698.59" r="1.7" fill="#000"/>
<circle cx="205.1" cy="699.51" r="1.7" fill="#000"/>
<circle cx="210.3" cy="700.21" r="1.7" fill="#000"/>
<circle cx="215.5" cy="701.12" r="1.7" fill="#000"/>
<circle cx="210.3" cy="701.77" r="1.7" fill="#000"/>
<circle cx="206.4" cy="702.56" r="1.7" fill="#000"/>
<circle cx="212.9" cy="703.57" r="1.7" fill="#000"/>
<line x1="205.10000000000002" x2="215.5" y1="698.7125" y2="698.7125" stroke="#000" stroke-width="0.9"/>
<path d="M210.3 697.3725 V700.0525 M207.5 697.3725 H213.10000000000002 M207.5 700.0525 H213.10000000000002" stroke="#000" stroke-width="0.8" fill="none"/>
<rect x="224.35" y="666.13" width="3.2" height="3.2" fill="#000"/>
<rect x="228.25" y="666.9599999999999" width="3.2" height="3.2" fill="#000"/>
<rect x="224.35" y="693.12" width="3.2" height="3.2" fill="#000"/>
<rect x="220.45000000000002" y="694.09" width="3.2" height="3.2" fill="#000"/>
<rect x="228.25" y="694.4599999999999" width="3.2" height="3.2" fill="#000"/>
<rect x="229.55" y="695.36" width="3.2" height="3.2" fill="#000"/>
<rect x="224.35" y="695.9" width="3.2" height="3.2" fill="#000"/>
<rect x="223.05" y="696.73" width="3.2" height="3.2" fill="#000"/>
<rect x="219.15" y="697.42" width="3.2" height="3.2" fill="#000"/>
<rect x="226.95000000000002" y="697.88" width="3.2" height="3.2" fill="#000"/>
<rect x="221.75" y="698.65" width="3.2" height="3.2" fill="#000"/>
<rect x="225.65" y="699.12" width="3.2" height="3.2" fill="#000"/>
<line x1="220.75000000000003" x2="231.15" y1="692.85" y2="692.85" stroke="#000" stroke-width="0.9"/>
<path d="M225.95000000000002 688.6625 V697.0375 M223.15 688.6625 H228.75000000000003 M223.15 697.0375 H228.75000000000003" stroke="#000" stroke-width="0.8" fill="none"/>
<path d="M241.6 698.75 L243.5 702.15 L239.7 702.15Z" fill="#000"/>
<path d="M245.5 699.15 L247.4 702.55 L243.6 702.55Z" fill="#000"/>
<path d="M237.7 699.65 L239.6 703.05 L235.79999999999998 703.05Z" fill="#000"/>
<path d="M239.0 700.12 L240.9 703.52 L237.1 703.52Z" fill="#000"/>
<path d="M240.3 700.71 L242.20000000000002 704.11 L238.4 704.11Z" fill="#000"/>
<path d="M240.3 700.98 L242.20000000000002 704.38 L238.4 704.38Z" fill="#000"/>
<path d="M237.7 701.48 L239.6 704.88 L235.79999999999998 704.88Z" fill="#000"/>
<line x1="236.40000000000003" x2="246.8" y1="702.0625" y2="702.0625" stroke="#000" stroke-width="0.9"/>
<path d="M257.25 685.54 L259.15 682.14 L255.35 682.14Z" fill="#000"/>
<path d="M257.25 694.75 L259.15 691.35 L255.35 691.35Z" fill="#000"/>
<path d="M253.35 696.42 L255.25 693.02 L251.45 693.02Z" fill="#000"/>
<path d="M257.25 698.1 L259.15 694.7 L255.35 694.7Z" fill="#000"/>
<path d="M257.25 701.4499999999999 L259.15 698.05 L255.35 698.05Z" fill="#000"/>
<line x1="252.05" x2="262.45" y1="693.6875" y2="693.6875" stroke="#000" stroke-width="0.9"/>
<path d="M257.25 690.84 V696.535 M254.45 690.84 H260.05 M254.45 696.535 H260.05" stroke="#000" stroke-width="0.8" fill="none"/>
<path d="M272.9 647.4 L274.5 649.3 L272.9 651.1999999999999 L271.29999999999995 649.3Z" fill="#000"/>
<path d="M272.9 653.26 L274.5 655.16 L272.9 657.06 L271.29999999999995 655.16Z" fill="#000"/>
<path d="M272.9 669.78 L274.5 671.68 L272.9 673.5799999999999 L271.29999999999995 671.68Z" fill="#000"/>
<path d="M274.2 672.8000000000001 L275.8 674.7 L274.2 676.6 L272.59999999999997 674.7Z" fill="#000"/>
<path d="M270.3 674.26 L271.90000000000003 676.16 L270.3 678.06 L268.7 676.16Z" fill="#000"/>
<path d="M272.9 676.78 L274.5 678.68 L272.9 680.5799999999999 L271.29999999999995 678.68Z" fill="#000"/>
<path d="M269.0 678.16 L270.6 680.06 L269.0 681.9599999999999 L267.4 680.06Z" fill="#000"/>
<path d="M272.9 681.13 L274.5 683.03 L272.9 684.93 L271.29999999999995 683.03Z" fill="#000"/>
<path d="M269.0 682.1700000000001 L270.6 684.07 L269.0 685.97 L267.4 684.07Z" fill="#000"/>
<path d="M272.9 685.01 L274.5 686.91 L272.9 688.81 L271.29999999999995 686.91Z" fill="#000"/>
<path d="M275.5 687.45 L277.1 689.35 L275.5 691.25 L273.9 689.35Z" fill="#000"/>
<path d="M271.6 689.0 L273.20000000000005 690.9 L271.6 692.8 L270.0 690.9Z" fill="#000"/>
<path d="M274.2 691.27 L275.8 693.17 L274.2 695.0699999999999 L272.59999999999997 693.17Z" fill="#000"/>
<path d="M271.6 693.75 L273.20000000000005 695.65 L271.6 697.55 L270.0 695.65Z" fill="#000"/>
<line x1="267.70000000000005" x2="278.1" y1="681.125" y2="681.125" stroke="#000" stroke-width="0.9"/>
<path d="M272.90000000000003 677.44 V684.81 M270.1 677.44 H275.70000000000005 M270.1 684.81 H275.70000000000005" stroke="#000" stroke-width="0.8" fill="none"/>
<circle cx="288.55" cy="650.14" r="1.8" fill="#fff" fill-opacity="0.25" stroke="#000" stroke-width="0.9"/>
<circle cx="288.55" cy="670.07" r="1.8" fill="#fff" fill-opacity="0.25" stroke="#000" stroke-width="0.9"/>
<circle cx="291.15" cy="672.49" r="1.8" fill="#fff" fill-opacity="0.25" stroke="#000" stroke-width="0.9"/>
<circle cx="288.55" cy="674.89" r="1.8" fill="#fff" fill-opacity="0.25" stroke="#000" stroke-width="0.9"/>
<circle cx="291.15" cy="676.88" r="1.8" fill="#fff" fill-opacity="0.25" stroke="#000" stroke-width="0.9"/>
<circle cx="287.25" cy="678.21" r="1.8" fill="#fff" fill-opacity="0.25" stroke="#000" stroke-width="0.9"/>
<circle cx="289.85" cy="680.61" r="1.8" fill="#fff" fill-opacity="0.25" stroke="#000" stroke-width="0.9"/>
<circle cx="288.55" cy="683.63" r="1.8" fill="#fff" fill-opacity="0.25" stroke="#000" stroke-width="0.9"/>
<circle cx="284.65" cy="684.92" r="1.8" fill="#fff" fill-opacity="0.25" stroke="#000" stroke-width="0.9"/>
<circle cx="288.55" cy="687.08" r="1.8" fill="#fff" fill-opacity="0.25" stroke="#000" stroke-width="0.9"/>
<circle cx="285.95" cy="689.26" r="1.8" fill="#fff" fill-opacity="0.25" stroke="#000" stroke-width="0.9"/>
<circle cx="288.55" cy="691.57" r="1.8" fill="#fff" fill-opacity="0.25" stroke="#000" stroke-width="0.9"/>
<circle cx="285.95" cy="693.66" r="1.8" fill="#fff" fill-opacity="0.25" stroke="#000" stroke-width="0.9"/>
<circle cx="288.55" cy="695.84" r="1.8" fill="#fff" fill-opacity="0.25" stroke="#000" stroke-width="0.9"/>
<circle cx="292.45" cy="697.42" r="1.8" fill="#fff" fill-opacity="0.25" stroke="#000" stroke-width="0.9"/>
<line x1="283.35" x2="293.75" y1="683.6375" y2="683.6375" stroke="#000" stroke-width="0.9"/>
<path d="M288.55 680.6225000000001 V686.6525 M285.75 680.6225000000001 H291.35 M285.75 686.6525 H291.35" stroke="#000" stroke-width="0.8" fill="none"/>
<rect x="302.55" y="634.25" width="3.3" height="3.3" fill="#fff" fill-opacity="0.25" stroke="#000" stroke-width="0.9"/>
<rect x="302.55" y="642.62" width="3.3" height="3.3" fill="#fff" fill-opacity="0.25" stroke="#000" stroke-width="0.9"/>
<rect x="302.55" y="669.77" width="3.3" height="3.3" fill="#fff" fill-opacity="0.25" stroke="#000" stroke-width="0.9"/>
<rect x="298.65000000000003" y="670.91" width="3.3" height="3.3" fill="#fff" fill-opacity="0.25" stroke="#000" stroke-width="0.9"/>
<rect x="302.55" y="673.59" width="3.3" height="3.3" fill="#fff" fill-opacity="0.25" stroke="#000" stroke-width="0.9"/>
<rect x="299.95000000000005" y="676.0400000000001" width="3.3" height="3.3" fill="#fff" fill-opacity="0.25" stroke="#000" stroke-width="0.9"/>
<rect x="302.55" y="679.62" width="3.3" height="3.3" fill="#fff" fill-opacity="0.25" stroke="#000" stroke-width="0.9"/>
<rect x="299.95000000000005" y="682.32" width="3.3" height="3.3" fill="#fff" fill-opacity="0.25" stroke="#000" stroke-width="0.9"/>
<rect x="302.55" y="684.33" width="3.3" height="3.3" fill="#fff" fill-opacity="0.25" stroke="#000" stroke-width="0.9"/>
<rect x="305.15000000000003" y="686.35" width="3.3" height="3.3" fill="#fff" fill-opacity="0.25" stroke="#000" stroke-width="0.9"/>
<rect x="302.55" y="689.9200000000001" width="3.3" height="3.3" fill="#fff" fill-opacity="0.25" stroke="#000" stroke-width="0.9"/>
<rect x="305.15000000000003" y="691.73" width="3.3" height="3.3" fill="#fff" fill-opacity="0.25" stroke="#000" stroke-width="0.9"/>
<rect x="302.55" y="695.22" width="3.3" height="3.3" fill="#fff" fill-opacity="0.25" stroke="#000" stroke-width="0.9"/>
<rect x="299.95000000000005" y="697.57" width="3.3" height="3.3" fill="#fff" fill-opacity="0.25" stroke="#000" stroke-width="0.9"/>
<rect x="302.55" y="700.0600000000001" width="3.3" height="3.3" fill="#fff" fill-opacity="0.25" stroke="#000" stroke-width="0.9"/>
<line x1="299.00000000000006" x2="309.40000000000003" y1="681.9625" y2="681.9625" stroke="#000" stroke-width="0.9"/>
<path d="M304.20000000000005 676.6025 V687.3225 M301.40000000000003 676.6025 H307.00000000000006 M301.40000000000003 687.3225 H307.00000000000006" stroke="#000" stroke-width="0.8" fill="none"/>
<path d="M319.85 626.5600000000001 L321.65000000000003 629.76 L318.05 629.76Z" fill="#fff" fill-opacity="0.25" stroke="#000" stroke-width="0.8"/>
<path d="M319.85 660.44 L321.65000000000003 663.64 L318.05 663.64Z" fill="#fff" fill-opacity="0.25" stroke="#000" stroke-width="0.8"/>
<path d="M319.85 664.72 L321.65000000000003 667.92 L318.05 667.92Z" fill="#fff" fill-opacity="0.25" stroke="#000" stroke-width="0.8"/>
<path d="M322.45 667.0200000000001 L324.25 670.22 L320.65 670.22Z" fill="#fff" fill-opacity="0.25" stroke="#000" stroke-width="0.8"/>
<path d="M319.85 670.1800000000001 L321.65000000000003 673.38 L318.05 673.38Z" fill="#fff" fill-opacity="0.25" stroke="#000" stroke-width="0.8"/>
<path d="M317.25 672.72 L319.05 675.92 L315.45 675.92Z" fill="#fff" fill-opacity="0.25" stroke="#000" stroke-width="0.8"/>
<path d="M319.85 675.63 L321.65000000000003 678.8299999999999 L318.05 678.8299999999999Z" fill="#fff" fill-opacity="0.25" stroke="#000" stroke-width="0.8"/>
<path d="M319.85 679.44 L321.65000000000003 682.64 L318.05 682.64Z" fill="#fff" fill-opacity="0.25" stroke="#000" stroke-width="0.8"/>
<path d="M322.45 682.19 L324.25 685.39 L320.65 685.39Z" fill="#fff" fill-opacity="0.25" stroke="#000" stroke-width="0.8"/>
<path d="M319.85 685.86 L321.65000000000003 689.06 L318.05 689.06Z" fill="#fff" fill-opacity="0.25" stroke="#000" stroke-width="0.8"/>
<path d="M322.45 688.5300000000001 L324.25 691.73 L320.65 691.73Z" fill="#fff" fill-opacity="0.25" stroke="#000" stroke-width="0.8"/>
<path d="M319.85 692.07 L321.65000000000003 695.27 L318.05 695.27Z" fill="#fff" fill-opacity="0.25" stroke="#000" stroke-width="0.8"/>
<path d="M322.45 694.0500000000001 L324.25 697.25 L320.65 697.25Z" fill="#fff" fill-opacity="0.25" stroke="#000" stroke-width="0.8"/>
<path d="M319.85 698.33 L321.65000000000003 701.53 L318.05 701.53Z" fill="#fff" fill-opacity="0.25" stroke="#000" stroke-width="0.8"/>
<line x1="314.65000000000003" x2="325.05" y1="681.9625" y2="681.9625" stroke="#000" stroke-width="0.9"/>
<path d="M319.85 676.9375 V686.9875 M317.05 676.9375 H322.65000000000003 M317.05 686.9875 H322.65000000000003" stroke="#000" stroke-width="0.8" fill="none"/>
<text x="208.75" y="661.3" font-size="12" font-weight="bold" class="b"><tspan font-style="italic">P</tspan> &lt; .005</text>
<text x="208.75" y="729" font-size="12.8" font-weight="normal" font-style="normal" text-anchor="middle" stroke="#000" stroke-width="0.45">Ø</text>
<text x="222.9" y="729" font-size="12.6" font-weight="bold" font-style="normal" text-anchor="middle" stroke="#000" stroke-width="0.25">E</text>
<text x="236.25" y="729" font-size="12.6" font-weight="bold" font-style="normal" text-anchor="middle" stroke="#000" stroke-width="0.25">P</text>
<text x="253.9" y="729" font-size="12.6" font-weight="bold" font-style="normal" text-anchor="middle" stroke="#000" stroke-width="0.25">EP</text>
<text x="272.5" y="729" font-size="12.8" font-weight="normal" font-style="normal" text-anchor="middle" stroke="#000" stroke-width="0.45">Ø</text>
<text x="286.5" y="729" font-size="12.6" font-weight="bold" font-style="normal" text-anchor="middle" stroke="#000" stroke-width="0.25">E</text>
<text x="300.0" y="729" font-size="12.6" font-weight="bold" font-style="normal" text-anchor="middle" stroke="#000" stroke-width="0.25">P</text>
<text x="317.9" y="729" font-size="12.6" font-weight="bold" font-style="normal" text-anchor="middle" stroke="#000" stroke-width="0.25">EP</text>
<path d="M207.9 736.2 V739.7 Q207.9 742.7 210.9 742.7 H230.60000000000002 Q233.10000000000002 742.7 233.10000000000002 747.5 Q233.10000000000002 742.7 235.60000000000002 742.7 H255.3 Q258.3 742.7 258.3 739.7 V736.2" fill="none" stroke="#000" stroke-width="1.4"/>
<text x="210.2" y="763.8" font-size="15.3" font-weight="bold" class="b" font-style="italic">Apc<tspan font-size="10.3" dy="-5.8" dx="0.6">fl/+</tspan></text>
<path d="M273.7 736.2 V739.7 Q273.7 742.7 276.7 742.7 H296.79999999999995 Q299.29999999999995 742.7 299.29999999999995 747.5 Q299.29999999999995 742.7 301.79999999999995 742.7 H321.9 Q324.9 742.7 324.9 739.7 V736.2" fill="none" stroke="#000" stroke-width="1.4"/>
<text x="271.5" y="763.8" font-size="15.3" font-weight="bold" class="b" font-style="italic">Apc<tspan font-size="10.3" dy="-5.8" dx="0.6">del/+</tspan></text>
<path d="M384.5 622.0 V706.25 H509.85" fill="none" stroke="#000" stroke-width="1.25"/>
<line x1="380.9" x2="384.5" y1="706.25" y2="706.25" stroke="#000" stroke-width="1"/>
<text x="380.8" y="708.45" font-size="6" font-weight="normal" font-style="normal" text-anchor="end" fill="#222">0</text>
<line x1="380.9" x2="384.5" y1="689.5" y2="689.5" stroke="#000" stroke-width="1"/>
<text x="380.8" y="691.7" font-size="6" font-weight="normal" font-style="normal" text-anchor="end" fill="#222">500</text>
<line x1="380.9" x2="384.5" y1="672.75" y2="672.75" stroke="#000" stroke-width="1"/>
<text x="380.8" y="674.95" font-size="6" font-weight="normal" font-style="normal" text-anchor="end" fill="#222">1000</text>
<line x1="380.9" x2="384.5" y1="656.0" y2="656.0" stroke="#000" stroke-width="1"/>
<text x="380.8" y="658.2" font-size="6" font-weight="normal" font-style="normal" text-anchor="end" fill="#222">1500</text>
<line x1="380.9" x2="384.5" y1="639.25" y2="639.25" stroke="#000" stroke-width="1"/>
<text x="380.8" y="641.45" font-size="6" font-weight="normal" font-style="normal" text-anchor="end" fill="#222">2000</text>
<line x1="380.9" x2="384.5" y1="622.5" y2="622.5" stroke="#000" stroke-width="1"/>
<text x="380.8" y="624.7" font-size="6" font-weight="normal" font-style="normal" text-anchor="end" fill="#222">2500</text>
<line x1="392.3" x2="392.3" y1="706.25" y2="709.65" stroke="#000" stroke-width="1"/>
<line x1="407.95" x2="407.95" y1="706.25" y2="709.65" stroke="#000" stroke-width="1"/>
<line x1="423.6" x2="423.6" y1="706.25" y2="709.65" stroke="#000" stroke-width="1"/>
<line x1="439.25" x2="439.25" y1="706.25" y2="709.65" stroke="#000" stroke-width="1"/>
<line x1="454.90000000000003" x2="454.90000000000003" y1="706.25" y2="709.65" stroke="#000" stroke-width="1"/>
<line x1="470.55" x2="470.55" y1="706.25" y2="709.65" stroke="#000" stroke-width="1"/>
<line x1="486.20000000000005" x2="486.20000000000005" y1="706.25" y2="709.65" stroke="#000" stroke-width="1"/>
<line x1="501.85" x2="501.85" y1="706.25" y2="709.65" stroke="#000" stroke-width="1"/>
<text x="448" y="612.3" font-size="15" font-weight="bold" font-style="normal" text-anchor="middle"  class="b">PLT</text>
<text transform="translate(362 656.5) rotate(-90)" font-size="14" font-weight="bold" class="b" text-anchor="middle">K/<tspan font-weight="normal" font-size="13" stroke-width="0.15">µ</tspan>L</text>
<circle cx="392.3" cy="669.4" r="1.7" fill="#000"/>
<circle cx="392.3" cy="674.76" r="1.7" fill="#000"/>
<circle cx="388.4" cy="676.02" r="1.7" fill="#000"/>
<circle cx="393.6" cy="677.72" r="1.7" fill="#000"/>
<circle cx="389.7" cy="679.14" r="1.7" fill="#000"/>
<circle cx="394.9" cy="680.63" r="1.7" fill="#000"/>
<circle cx="387.1" cy="681.85" r="1.7" fill="#000"/>
<circle cx="392.3" cy="683.04" r="1.7" fill="#000"/>
<circle cx="396.2" cy="684.17" r="1.7" fill="#000"/>
<circle cx="389.7" cy="685.57" r="1.7" fill="#000"/>
<circle cx="393.6" cy="687.0" r="1.7" fill="#000"/>
<line x1="387.1" x2="397.5" y1="680.12" y2="680.12" stroke="#000" stroke-width="0.9"/>
<path d="M392.3 678.6125 V681.6275 M389.5 678.6125 H395.1 M389.5 681.6275 H395.1" stroke="#000" stroke-width="0.8" fill="none"/>
<rect x="406.34999999999997" y="668.15" width="3.2" height="3.2" fill="#000"/>
<rect x="403.75" y="670.02" width="3.2" height="3.2" fill="#000"/>
<rect x="406.34999999999997" y="671.79" width="3.2" height="3.2" fill="#000"/>
<rect x="410.25" y="673.03" width="3.2" height="3.2" fill="#000"/>
<rect x="403.75" y="674.49" width="3.2" height="3.2" fill="#000"/>
<rect x="406.34999999999997" y="676.5799999999999" width="3.2" height="3.2" fill="#000"/>
<rect x="402.45" y="677.41" width="3.2" height="3.2" fill="#000"/>
<rect x="408.95" y="679.11" width="3.2" height="3.2" fill="#000"/>
<rect x="405.04999999999995" y="680.3199999999999" width="3.2" height="3.2" fill="#000"/>
<rect x="401.15" y="681.8299999999999" width="3.2" height="3.2" fill="#000"/>
<rect x="406.34999999999997" y="683.4499999999999" width="3.2" height="3.2" fill="#000"/>
<line x1="402.75" x2="413.15" y1="677.775" y2="677.775" stroke="#000" stroke-width="0.9"/>
<path d="M407.95 676.2674999999999 V679.2825 M405.15 676.2674999999999 H410.75 M405.15 679.2825 H410.75" stroke="#000" stroke-width="0.8" fill="none"/>
<path d="M423.6 674.86 L425.5 678.26 L421.70000000000005 678.26Z" fill="#000"/>
<path d="M419.7 675.91 L421.59999999999997 679.31 L417.8 679.31Z" fill="#000"/>
<path d="M427.5 676.37 L429.4 679.77 L425.6 679.77Z" fill="#000"/>
<path d="M428.8 677.64 L430.7 681.04 L426.90000000000003 681.04Z" fill="#000"/>
<path d="M423.6 678.62 L425.5 682.02 L421.70000000000005 682.02Z" fill="#000"/>
<path d="M419.7 679.38 L421.59999999999997 682.78 L417.8 682.78Z" fill="#000"/>
<path d="M426.2 680.4300000000001 L428.09999999999997 683.83 L424.3 683.83Z" fill="#000"/>
<line x1="418.40000000000003" x2="428.8" y1="680.455" y2="680.455" stroke="#000" stroke-width="0.9"/>
<path d="M423.6 679.6175000000001 V681.2925 M420.8 679.6175000000001 H426.40000000000003 M420.8 681.2925 H426.40000000000003" stroke="#000" stroke-width="0.8" fill="none"/>
<path d="M439.25 667.9499999999999 L441.15 664.55 L437.35 664.55Z" fill="#000"/>
<path d="M439.25 672.98 L441.15 669.58 L437.35 669.58Z" fill="#000"/>
<path d="M435.35 674.65 L437.25 671.25 L433.45000000000005 671.25Z" fill="#000"/>
<path d="M439.25 676.3199999999999 L441.15 672.92 L437.35 672.92Z" fill="#000"/>
<path d="M435.35 678.0 L437.25 674.6 L433.45000000000005 674.6Z" fill="#000"/>
<line x1="434.05" x2="444.45" y1="672.75" y2="672.75" stroke="#000" stroke-width="0.9"/>
<path d="M439.25 671.075 V674.425 M436.45 671.075 H442.05 M436.45 674.425 H442.05" stroke="#000" stroke-width="0.8" fill="none"/>
<path d="M454.9 651.75 L456.5 653.65 L454.9 655.55 L453.29999999999995 653.65Z" fill="#000"/>
<path d="M454.9 659.12 L456.5 661.02 L454.9 662.92 L453.29999999999995 661.02Z" fill="#000"/>
<path d="M458.8 660.8000000000001 L460.40000000000003 662.7 L458.8 664.6 L457.2 662.7Z" fill="#000"/>
<path d="M454.9 670.85 L456.5 672.75 L454.9 674.65 L453.29999999999995 672.75Z" fill="#000"/>
<path d="M454.9 674.2 L456.5 676.1 L454.9 678.0 L453.29999999999995 676.1Z" fill="#000"/>
<path d="M451.0 675.87 L452.6 677.77 L451.0 679.67 L449.4 677.77Z" fill="#000"/>
<path d="M454.9 679.22 L456.5 681.12 L454.9 683.02 L453.29999999999995 681.12Z" fill="#000"/>
<path d="M451.0 680.9 L452.6 682.8 L451.0 684.6999999999999 L449.4 682.8Z" fill="#000"/>
<path d="M454.9 684.25 L456.5 686.15 L454.9 688.05 L453.29999999999995 686.15Z" fill="#000"/>
<path d="M458.8 685.9300000000001 L460.40000000000003 687.83 L458.8 689.73 L457.2 687.83Z" fill="#000"/>
<path d="M454.9 689.27 L456.5 691.17 L454.9 693.0699999999999 L453.29999999999995 691.17Z" fill="#000"/>
<path d="M458.8 690.28 L460.40000000000003 692.18 L458.8 694.0799999999999 L457.2 692.18Z" fill="#000"/>
<path d="M451.0 690.95 L452.6 692.85 L451.0 694.75 L449.4 692.85Z" fill="#000"/>
<line x1="449.70000000000005" x2="460.1" y1="677.44" y2="677.44" stroke="#000" stroke-width="0.9"/>
<path d="M454.90000000000003 674.2575 V680.6225000000001 M452.1 674.2575 H457.70000000000005 M452.1 680.6225000000001 H457.70000000000005" stroke="#000" stroke-width="0.8" fill="none"/>
<circle cx="470.55" cy="632.55" r="1.8" fill="#fff" fill-opacity="0.25" stroke="#000" stroke-width="0.9"/>
<circle cx="470.55" cy="656.67" r="1.8" fill="#fff" fill-opacity="0.25" stroke="#000" stroke-width="0.9"/>
<circle cx="470.55" cy="662.7" r="1.8" fill="#fff" fill-opacity="0.25" stroke="#000" stroke-width="0.9"/>
<circle cx="470.55" cy="671.08" r="1.8" fill="#fff" fill-opacity="0.25" stroke="#000" stroke-width="0.9"/>
<circle cx="470.55" cy="674.42" r="1.8" fill="#fff" fill-opacity="0.25" stroke="#000" stroke-width="0.9"/>
<circle cx="466.65" cy="676.1" r="1.8" fill="#fff" fill-opacity="0.25" stroke="#000" stroke-width="0.9"/>
<circle cx="470.55" cy="677.77" r="1.8" fill="#fff" fill-opacity="0.25" stroke="#000" stroke-width="0.9"/>
<circle cx="474.45" cy="679.45" r="1.8" fill="#fff" fill-opacity="0.25" stroke="#000" stroke-width="0.9"/>
<circle cx="467.95" cy="680.12" r="1.8" fill="#fff" fill-opacity="0.25" stroke="#000" stroke-width="0.9"/>
<circle cx="470.55" cy="682.8" r="1.8" fill="#fff" fill-opacity="0.25" stroke="#000" stroke-width="0.9"/>
<circle cx="470.55" cy="686.15" r="1.8" fill="#fff" fill-opacity="0.25" stroke="#000" stroke-width="0.9"/>
<circle cx="470.55" cy="689.5" r="1.8" fill="#fff" fill-opacity="0.25" stroke="#000" stroke-width="0.9"/>
<circle cx="466.65" cy="691.17" r="1.8" fill="#fff" fill-opacity="0.25" stroke="#000" stroke-width="0.9"/>
<circle cx="470.55" cy="696.87" r="1.8" fill="#fff" fill-opacity="0.25" stroke="#000" stroke-width="0.9"/>
<line x1="465.35" x2="475.75" y1="676.77" y2="676.77" stroke="#000" stroke-width="0.9"/>
<path d="M470.55 673.085 V680.4549999999999 M467.75 673.085 H473.35 M467.75 680.4549999999999 H473.35" stroke="#000" stroke-width="0.8" fill="none"/>
<rect x="484.55" y="669.4300000000001" width="3.3" height="3.3" fill="#fff" fill-opacity="0.25" stroke="#000" stroke-width="0.9"/>
<rect x="487.15000000000003" y="671.1" width="3.3" height="3.3" fill="#fff" fill-opacity="0.25" stroke="#000" stroke-width="0.9"/>
<rect x="484.55" y="676.12" width="3.3" height="3.3" fill="#fff" fill-opacity="0.25" stroke="#000" stroke-width="0.9"/>
<rect x="487.15000000000003" y="677.8000000000001" width="3.3" height="3.3" fill="#fff" fill-opacity="0.25" stroke="#000" stroke-width="0.9"/>
<rect x="484.55" y="678.47" width="3.3" height="3.3" fill="#fff" fill-opacity="0.25" stroke="#000" stroke-width="0.9"/>
<rect x="484.55" y="681.49" width="3.3" height="3.3" fill="#fff" fill-opacity="0.25" stroke="#000" stroke-width="0.9"/>
<rect x="481.95000000000005" y="682.0600000000001" width="3.3" height="3.3" fill="#fff" fill-opacity="0.25" stroke="#000" stroke-width="0.9"/>
<rect x="487.15000000000003" y="683.08" width="3.3" height="3.3" fill="#fff" fill-opacity="0.25" stroke="#000" stroke-width="0.9"/>
<rect x="484.55" y="683.83" width="3.3" height="3.3" fill="#fff" fill-opacity="0.25" stroke="#000" stroke-width="0.9"/>
<rect x="481.95000000000005" y="684.4300000000001" width="3.3" height="3.3" fill="#fff" fill-opacity="0.25" stroke="#000" stroke-width="0.9"/>
<rect x="488.45000000000005" y="685.07" width="3.3" height="3.3" fill="#fff" fill-opacity="0.25" stroke="#000" stroke-width="0.9"/>
<rect x="485.85" y="685.8000000000001" width="3.3" height="3.3" fill="#fff" fill-opacity="0.25" stroke="#000" stroke-width="0.9"/>
<rect x="483.25" y="686.57" width="3.3" height="3.3" fill="#fff" fill-opacity="0.25" stroke="#000" stroke-width="0.9"/>
<rect x="480.65000000000003" y="687.22" width="3.3" height="3.3" fill="#fff" fill-opacity="0.25" stroke="#000" stroke-width="0.9"/>
<rect x="485.85" y="688.02" width="3.3" height="3.3" fill="#fff" fill-opacity="0.25" stroke="#000" stroke-width="0.9"/>
<rect x="488.45000000000005" y="688.62" width="3.3" height="3.3" fill="#fff" fill-opacity="0.25" stroke="#000" stroke-width="0.9"/>
<rect x="483.25" y="689.58" width="3.3" height="3.3" fill="#fff" fill-opacity="0.25" stroke="#000" stroke-width="0.9"/>
<rect x="480.65000000000003" y="690.15" width="3.3" height="3.3" fill="#fff" fill-opacity="0.25" stroke="#000" stroke-width="0.9"/>
<rect x="485.85" y="690.76" width="3.3" height="3.3" fill="#fff" fill-opacity="0.25" stroke="#000" stroke-width="0.9"/>
<line x1="481.00000000000006" x2="491.40000000000003" y1="684.81" y2="684.81" stroke="#000" stroke-width="0.9"/>
<path d="M486.20000000000005 683.3024999999999 V686.3175 M483.40000000000003 683.3024999999999 H489.00000000000006 M483.40000000000003 686.3175 H489.00000000000006" stroke="#000" stroke-width="0.8" fill="none"/>
<path d="M501.85 673.24 L503.65000000000003 676.4399999999999 L500.05 676.4399999999999Z" fill="#fff" fill-opacity="0.25" stroke="#000" stroke-width="0.8"/>
<path d="M499.25 673.99 L501.05 677.1899999999999 L497.45 677.1899999999999Z" fill="#fff" fill-opacity="0.25" stroke="#000" stroke-width="0.8"/>
<path d="M504.45 674.96 L506.25 678.16 L502.65 678.16Z" fill="#fff" fill-opacity="0.25" stroke="#000" stroke-width="0.8"/>
<path d="M501.85 676.0200000000001 L503.65000000000003 679.22 L500.05 679.22Z" fill="#fff" fill-opacity="0.25" stroke="#000" stroke-width="0.8"/>
<path d="M499.25 676.8000000000001 L501.05 680.0 L497.45 680.0Z" fill="#fff" fill-opacity="0.25" stroke="#000" stroke-width="0.8"/>
<path d="M504.45 677.97 L506.25 681.17 L502.65 681.17Z" fill="#fff" fill-opacity="0.25" stroke="#000" stroke-width="0.8"/>
<path d="M501.85 678.8100000000001 L503.65000000000003 682.01 L500.05 682.01Z" fill="#fff" fill-opacity="0.25" stroke="#000" stroke-width="0.8"/>
<path d="M499.25 679.4000000000001 L501.05 682.6 L497.45 682.6Z" fill="#fff" fill-opacity="0.25" stroke="#000" stroke-width="0.8"/>
<path d="M504.45 680.75 L506.25 683.9499999999999 L502.65 683.9499999999999Z" fill="#fff" fill-opacity="0.25" stroke="#000" stroke-width="0.8"/>
<path d="M501.85 687.7 L503.65000000000003 690.9 L500.05 690.9Z" fill="#fff" fill-opacity="0.25" stroke="#000" stroke-width="0.8"/>
<path d="M501.85 694.4000000000001 L503.65000000000003 697.6 L500.05 697.6Z" fill="#fff" fill-opacity="0.25" stroke="#000" stroke-width="0.8"/>
<path d="M499.25 695.07 L501.05 698.27 L497.45 698.27Z" fill="#fff" fill-opacity="0.25" stroke="#000" stroke-width="0.8"/>
<path d="M501.85 697.08 L503.65000000000003 700.28 L500.05 700.28Z" fill="#fff" fill-opacity="0.25" stroke="#000" stroke-width="0.8"/>
<path d="M504.45 697.4200000000001 L506.25 700.62 L502.65 700.62Z" fill="#fff" fill-opacity="0.25" stroke="#000" stroke-width="0.8"/>
<line x1="496.65000000000003" x2="507.05" y1="682.8" y2="682.8" stroke="#000" stroke-width="0.9"/>
<path d="M501.85 680.79 V684.81 M499.05 680.79 H504.65000000000003 M499.05 684.81 H504.65000000000003" stroke="#000" stroke-width="0.8" fill="none"/>
<text x="388.1" y="729" font-size="12.8" font-weight="normal" font-style="normal" text-anchor="middle" stroke="#000" stroke-width="0.45">Ø</text>
<text x="402.25" y="729" font-size="12.6" font-weight="bold" font-style="normal" text-anchor="middle" stroke="#000" stroke-width="0.25">E</text>
<text x="415.6" y="729" font-size="12.6" font-weight="bold" font-style="normal" text-anchor="middle" stroke="#000" stroke-width="0.25">P</text>
<text x="433.25" y="729" font-size="12.6" font-weight="bold" font-style="normal" text-anchor="middle" stroke="#000" stroke-width="0.25">EP</text>
<text x="451.85" y="729" font-size="12.8" font-weight="normal" font-style="normal" text-anchor="middle" stroke="#000" stroke-width="0.45">Ø</text>
<text x="465.85" y="729" font-size="12.6" font-weight="bold" font-style="normal" text-anchor="middle" stroke="#000" stroke-width="0.25">E</text>
<text x="479.35" y="729" font-size="12.6" font-weight="bold" font-style="normal" text-anchor="middle" stroke="#000" stroke-width="0.25">P</text>
<text x="497.25" y="729" font-size="12.6" font-weight="bold" font-style="normal" text-anchor="middle" stroke="#000" stroke-width="0.25">EP</text>
<path d="M385.9 736.2 V739.7 Q385.9 742.7 388.9 742.7 H409.45 Q411.95 742.7 411.95 747.5 Q411.95 742.7 414.45 742.7 H435.0 Q438.0 742.7 438.0 739.7 V736.2" fill="none" stroke="#000" stroke-width="1.4"/>
<text x="391.1" y="763.8" font-size="15.3" font-weight="bold" class="b" font-style="italic">Apc<tspan font-size="10.3" dy="-5.8" dx="0.6">fl/+</tspan></text>
<path d="M452.2 736.2 V739.7 Q452.2 742.7 455.2 742.7 H475.35 Q477.85 742.7 477.85 747.5 Q477.85 742.7 480.35 742.7 H500.5 Q503.5 742.7 503.5 739.7 V736.2" fill="none" stroke="#000" stroke-width="1.4"/>
<text x="451.2" y="763.8" font-size="15.3" font-weight="bold" class="b" font-style="italic">Apc<tspan font-size="10.3" dy="-5.8" dx="0.6">del/+</tspan></text>
</svg>
</body></html>
